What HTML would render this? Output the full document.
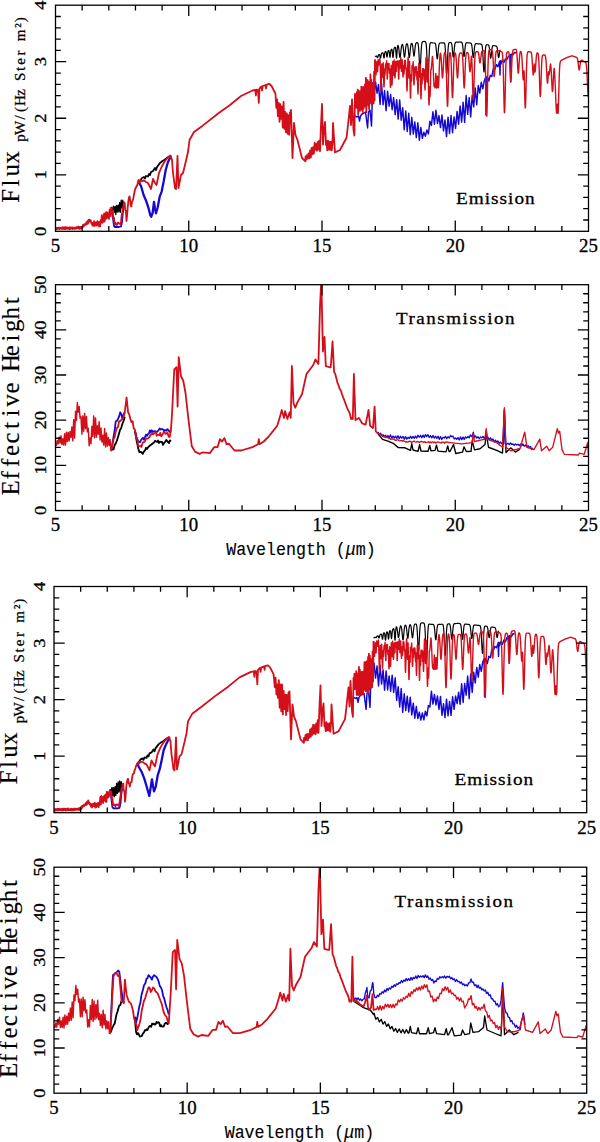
<!DOCTYPE html>
<html><head><meta charset="utf-8"><style>
html,body{margin:0;padding:0;background:#fff;width:600px;height:1142px;overflow:hidden;}
svg{display:block;}
text{fill:#000;}
</style></head><body>
<svg width="600" height="1142" viewBox="0 0 600 1142">
<rect width="600" height="1142" fill="#fff"/>
<defs>
<clipPath id="c1"><rect x="55.5" y="5.2" width="533" height="226.1"/></clipPath>
<clipPath id="c2"><rect x="55.5" y="284.7" width="533" height="225.8"/></clipPath>
<clipPath id="c3"><rect x="54" y="586.5" width="532.7" height="226.2"/></clipPath>
<clipPath id="c4"><rect x="54" y="867.2" width="532.7" height="226"/></clipPath>
</defs>
<g clip-path="url(#c1)"><polyline points="111.4,208 112.5,210 113.5,206.24 114.27,212.45 115.04,206.34 115.81,214.54 116.58,205.39 117.35,212.02 118.12,205.04 118.88,211.96 119.65,202.58 120.42,212.23 121.19,200.25 121.96,207.91 122.73,200.16 123.5,208.46 124.4,202.5" fill="none" stroke="#000000" stroke-width="1.3" stroke-linejoin="round" /><polyline points="140,181 142,178 144,177 145,178.5 146,176 148,176.5 149,174 150,175 151,172 153,171 155,168 156,170 157,167 160,163 162.5,161 165,159.5 167.5,157.5 170,156" fill="none" stroke="#000000" stroke-width="1.8" stroke-linejoin="round" /><polyline points="375,56.6 375.15,56.52 375.3,56.44 375.45,56.37 375.6,56.29 375.75,56.21 375.9,56.14 376.05,56.06 376.2,56.01 376.35,55.97 376.5,55.99 376.65,56.09 376.8,56.29 376.95,56.59 377.1,56.97 377.25,57.34 377.4,57.59 377.55,57.63 377.7,57.43 377.85,57.01 378,56.48 378.15,55.95 378.3,55.49 378.45,55.14 378.6,54.89 378.75,54.72 378.9,54.6 379.05,54.52 379.2,54.48 379.35,54.5 379.5,54.62 379.65,54.89 379.8,55.36 379.95,56.02 380.1,56.8 380.25,57.53 380.4,58.01 380.55,58.08 380.7,57.71 380.85,56.97 381,56.05 381.15,55.15 381.3,54.4 381.45,53.85 381.6,53.48 381.75,53.25 381.9,53.1 382.05,52.99 382.2,52.91 382.35,52.83 382.5,52.78 382.65,52.75 382.8,52.78 382.95,52.93 383.1,53.27 383.25,53.87 383.4,54.74 383.55,55.82 383.7,56.9 383.85,57.71 384,58.02 384.15,57.71 384.3,56.84 384.45,55.64 384.6,54.4 384.75,53.31 384.9,52.5 385.05,51.97 385.2,51.66 385.35,51.48 385.5,51.38 385.65,51.38 385.8,51.45 385.95,51.65 386.1,52.05 386.25,52.71 386.4,53.66 386.55,54.81 386.7,55.95 386.85,56.8 387,57.12 387.15,56.8 387.3,55.91 387.45,54.7 387.6,53.45 387.75,52.38 387.9,51.58 388.05,51.07 388.2,50.76 388.35,50.58 388.5,50.48 388.65,50.5 388.8,50.59 388.95,50.83 389.1,51.31 389.25,52.1 389.4,53.22 389.55,54.58 389.7,55.93 389.85,56.94 390,57.32 390.15,56.93 390.3,55.88 390.45,54.45 390.6,52.95 390.75,51.66 390.9,50.69 391.05,50.05 391.2,49.66 391.35,49.43 391.5,49.29 391.65,49.29 391.8,49.38 391.95,49.65 392.1,50.21 392.25,51.16 392.4,52.52 392.55,54.17 392.7,55.82 392.85,57.06 393,57.53 393.15,57.05 393.3,55.76 393.45,54 393.6,52.18 393.75,50.61 393.9,49.44 394.05,48.67 394.2,48.17 394.35,47.87 394.5,47.67 394.65,47.53 394.8,47.41 394.95,47.32 395.1,47.28 395.25,47.34 395.4,47.6 395.55,48.2 395.7,49.28 395.85,50.93 396,53.05 396.15,55.33 396.3,57.25 396.45,58.26 396.6,58.05 396.75,56.63 396.9,54.39 397.05,51.88 397.2,49.59 397.35,47.81 397.5,46.59 397.65,45.83 397.8,45.39 397.95,45.44 398.1,45.64 398.25,45.98 398.4,46.48 398.55,47.16 398.7,48.05 398.85,49.15 399,50.44 399.15,51.86 399.3,53.33 399.45,54.75 399.6,55.98 399.75,56.92 399.9,57.46 400.05,57.54 400.2,57.15 400.35,56.32 400.5,55.15 400.65,53.75 400.8,52.23 400.95,50.72 401.1,49.32 401.25,48.08 401.4,47.04 401.55,46.21 401.7,45.58 401.85,45.12 402,44.79 402.15,44.56 402.3,44.48 402.45,44.62 402.6,44.85 402.75,45.21 402.9,45.73 403.05,46.44 403.2,47.36 403.35,48.49 403.5,49.82 403.65,51.29 403.8,52.81 403.95,54.27 404.1,55.55 404.25,56.52 404.4,57.07 404.55,57.15 404.7,56.75 404.85,55.9 405,54.69 405.15,53.25 405.3,51.69 405.45,50.14 405.6,48.7 405.75,47.43 405.9,46.38 406.05,45.54 406.2,44.91 406.35,44.45 406.5,44.12 406.65,43.9 406.8,43.76 406.95,43.72 407.1,43.82 407.25,43.98 407.4,44.25 407.55,44.65 407.7,45.21 407.85,45.98 408,46.98 408.15,48.2 408.3,49.63 408.45,51.2 408.6,52.82 408.75,54.38 408.9,55.74 409.05,56.77 409.2,57.35 409.35,57.44 409.5,57.01 409.65,56.12 409.8,54.85 409.95,53.32 410.1,51.68 410.25,50.04 410.4,48.52 410.55,47.19 410.7,46.08 410.85,45.2 411,44.53 411.15,44.04 411.3,43.7 411.45,43.47 411.6,43.32 411.75,43.32 411.9,43.45 412.05,43.67 412.2,43.99 412.35,44.46 412.5,45.11 412.65,45.97 412.8,47.04 412.95,48.31 413.1,49.74 413.25,51.25 413.4,52.74 413.55,54.08 413.7,55.15 413.85,55.85 414,56.09 414.15,55.85 414.3,55.15 414.45,54.07 414.6,52.71 414.75,51.19 414.9,49.65 415.05,48.18 415.2,46.87 415.35,45.76 415.5,44.86 415.65,44.17 415.8,43.66 415.95,43.3 416.1,43.05 416.25,42.89 416.4,42.78 416.55,42.71 416.7,42.66 416.85,42.63 417,42.62 417.15,42.61 417.3,42.62 417.45,42.66 417.6,42.74 417.75,42.91 417.9,43.19 418.05,43.64 418.2,44.34 418.35,45.34 418.5,46.72 418.65,48.54 418.8,50.81 418.95,53.51 419.1,56.54 419.25,59.74 419.4,62.9 419.55,65.75 419.7,68.02 419.85,69.49 420,70 420.15,69.49 420.3,68.01 420.45,65.72 420.6,62.85 420.75,59.65 420.9,56.39 421.05,53.29 421.2,50.53 421.35,48.18 421.5,46.29 421.65,44.84 421.8,43.76 421.95,43.01 422.1,42.49 422.25,42.15 422.4,41.93 422.55,41.79 422.7,41.7 422.85,41.63 423,41.59 423.15,41.55 423.3,41.52 423.45,41.5 423.6,41.47 423.75,41.44 423.9,41.42 424.05,41.41 424.2,41.44 424.35,41.46 424.5,41.49 424.65,41.52 424.8,41.55 424.95,41.59 425.1,41.63 425.25,41.7 425.4,41.8 425.55,41.96 425.7,42.21 425.85,42.6 426,43.2 426.15,44.1 426.3,45.39 426.45,47.17 426.6,49.52 426.75,52.49 426.9,56.05 427.05,60.12 427.2,64.49 427.35,68.88 427.5,72.97 427.65,76.38 427.8,78.78 427.95,79.92 428.1,79.69 428.25,78.11 428.4,75.36 428.55,71.71 428.7,67.52 428.85,63.15 429,58.91 429.15,55.07 429.3,51.78 429.45,49.09 429.6,47.02 429.75,45.48 429.9,44.4 430.05,43.68 430.2,43.21 430.35,42.94 430.5,42.78 430.65,42.7 430.8,42.67 430.95,42.67 431.1,42.68 431.25,42.7 431.4,42.72 431.55,42.74 431.7,42.77 431.85,42.8 432,42.82 432.15,42.85 432.3,42.88 432.45,42.9 432.6,42.93 432.75,42.96 432.9,42.98 433.05,43 433.2,43 433.35,43 433.5,43 433.65,43 433.8,43 433.95,43 434.1,43 434.25,43.01 434.4,43.02 434.55,43.03 434.7,43.06 434.85,43.12 435,43.21 435.15,43.36 435.3,43.6 435.45,43.97 435.6,44.5 435.75,45.23 435.9,46.2 436.05,47.44 436.2,48.92 436.35,50.62 436.5,52.44 436.65,54.28 436.8,56 436.95,57.43 437.1,58.44 437.25,58.92 437.4,58.82 437.55,58.15 437.7,56.99 437.85,55.45 438,53.68 438.15,51.83 438.3,50.03 438.45,48.4 438.6,47 438.75,45.85 438.9,44.96 439.05,44.3 439.2,43.83 439.35,43.51 439.5,43.3 439.65,43.17 439.8,43.1 439.95,43.05 440.1,43.02 440.25,43 440.4,42.99 440.55,42.98 440.7,42.97 440.85,42.96 441,42.95 441.15,42.94 441.3,42.94 441.45,42.93 441.6,42.92 441.75,42.91 441.9,42.91 442.05,42.9 442.2,42.89 442.35,42.88 442.5,42.88 442.65,42.87 442.8,42.86 442.95,42.85 443.1,42.85 443.25,42.84 443.4,42.83 443.55,42.83 443.7,42.83 443.85,42.85 444,42.88 444.15,42.94 444.3,43.06 444.45,43.27 444.6,43.61 444.75,44.15 444.9,44.95 445.05,46.11 445.2,47.69 445.35,49.76 445.5,52.34 445.65,55.4 445.8,58.83 445.95,62.45 446.1,66.01 446.25,69.21 446.4,71.77 446.55,73.43 446.7,74 446.85,73.43 447,71.77 447.15,69.21 447.3,65.99 447.45,62.42 447.6,58.78 447.75,55.34 447.9,52.26 448.05,49.66 448.2,47.56 448.35,45.96 448.5,44.79 448.65,43.96 448.8,43.41 448.95,43.05 449.1,42.83 449.25,42.69 449.4,42.61 449.55,42.56 449.7,42.53 449.85,42.52 450,42.5 450.15,42.5 450.3,42.49 450.45,42.5 450.6,42.51 450.75,42.53 450.9,42.59 451.05,42.68 451.2,42.84 451.35,43.09 451.5,43.46 451.65,44.01 451.8,44.75 451.95,45.72 452.1,46.94 452.25,48.38 452.4,50 452.55,51.71 452.7,53.4 452.85,54.92 453,56.13 453.15,56.91 453.3,57.18 453.45,56.91 453.6,56.12 453.75,54.91 453.9,53.38 454.05,51.69 454.2,49.96 454.35,48.32 454.5,46.86 454.65,45.62 454.8,44.62 454.95,43.86 455.1,43.3 455.25,42.9 455.4,42.63 455.55,42.46 455.7,42.35 455.85,42.28 456,42.24 456.15,42.21 456.3,42.19 456.45,42.18 456.6,42.17 456.75,42.16 456.9,42.16 457.05,42.15 457.2,42.14 457.35,42.13 457.5,42.13 457.65,42.12 457.8,42.11 457.95,42.1 458.1,42.1 458.25,42.09 458.4,42.08 458.55,42.07 458.7,42.07 458.85,42.06 459,42.05 459.15,42.04 459.3,42.04 459.45,42.03 459.6,42.02 459.75,42.01 459.9,42.01 460.05,42.01 460.2,42.02 460.35,42.04 460.5,42.05 460.65,42.07 460.8,42.08 460.95,42.1 461.1,42.12 461.25,42.15 461.4,42.2 461.55,42.26 461.7,42.36 461.85,42.51 462,42.74 462.15,43.08 462.3,43.57 462.45,44.24 462.6,45.12 462.75,46.23 462.9,47.57 463.05,49.09 463.2,50.72 463.35,52.36 463.5,53.89 463.65,55.16 463.8,56.06 463.95,56.48 464.1,56.4 464.25,55.81 464.4,54.78 464.55,53.43 464.7,51.87 464.85,50.25 465,48.68 465.15,47.25 465.3,46.03 465.45,45.04 465.6,44.27 465.75,43.71 465.9,43.31 466.05,43.05 466.2,42.88 466.35,42.79 466.5,42.73 466.65,42.71 466.8,42.7 466.95,42.71 467.1,42.72 467.25,42.73 467.4,42.74 467.55,42.76 467.7,42.77 467.85,42.79 468,42.8 468.15,42.82 468.3,42.83 468.45,42.85 468.6,42.86 468.75,42.88 468.9,42.89 469.05,42.91 469.2,42.92 469.35,42.94 469.5,42.95 469.65,42.97 469.8,42.98 469.95,43 470.1,43.01 470.25,43.03 470.4,43.05 470.55,43.08 470.7,43.13 470.85,43.19 471,43.29 471.15,43.44 471.3,43.67 471.45,44.02 471.6,44.51 471.75,45.18 471.9,46.07 472.05,47.18 472.2,48.52 472.35,50.05 472.5,51.69 472.65,53.34 472.8,54.87 472.95,56.15 473.1,57.05 473.25,57.48 473.4,57.39 473.55,56.8 473.7,55.77 473.85,54.41 474,52.84 474.15,51.21 474.3,49.64 474.45,48.21 474.6,46.98 474.75,45.98 474.9,45.21 475.05,44.65 475.2,44.25 475.35,43.98 475.5,43.82 475.65,43.72 475.8,43.66 475.95,43.64 476.1,43.63 476.25,43.64 476.4,43.65 476.55,43.66 476.7,43.67 476.85,43.69 477,43.7 477.15,43.72 477.3,43.73 477.45,43.75 477.6,43.76 477.75,43.78 477.9,43.79 478.05,43.81 478.2,43.82 478.35,43.84 478.5,43.85 478.65,43.87 478.8,43.88 478.95,43.9 479.1,43.91 479.25,43.93 479.4,43.94 479.55,43.96 479.7,43.97 479.85,43.99 480,44 480.15,44.02 480.3,44.03 480.45,44.05 480.6,44.06 480.75,44.08 480.9,44.1 481.05,44.13 481.2,44.17 481.35,44.22 481.5,44.32 481.65,44.47 481.8,44.71 481.95,45.08 482.1,45.66 482.25,46.49 482.4,47.65 482.55,49.21 482.7,51.22 482.85,53.67 483,56.51 483.15,59.64 483.3,62.85 483.45,65.93 483.6,68.61 483.75,70.62 483.9,71.77 484.05,71.94 484.2,71.11 484.35,69.37 484.5,66.9 484.65,63.95 484.8,60.77 484.95,57.63 485.1,54.71 485.25,52.17 485.4,50.06 485.55,48.39 485.7,47.14 485.85,46.25 486,45.64 486.15,45.24 486.3,44.99 486.45,44.85 486.6,44.77 486.75,44.73 486.9,44.72 487.05,44.72 487.2,44.73 487.35,44.74 487.5,44.75 487.65,44.77 487.8,44.79 487.95,44.82 488.1,44.86 488.25,44.92 488.4,45.02 488.55,45.16 488.7,45.38 488.85,45.7 489,46.16 489.15,46.79 489.3,47.62 489.45,48.66 489.6,49.92 489.75,51.34 489.9,52.88 490.05,54.42 490.2,55.85 490.35,57.05 490.5,57.89 490.65,58.28 490.8,58.2 490.95,57.66 491.1,56.7 491.25,55.44 491.4,53.99 491.55,52.48 491.7,51.03 491.85,49.71 492,48.59 492.15,47.68 492.3,46.98 492.45,46.47 492.6,46.11 492.75,45.88 492.9,45.74 493.05,45.66 493.2,45.62 493.35,45.61 493.5,45.62 493.65,45.63 493.8,45.65 493.95,45.67 494.1,45.7 494.25,45.72 494.4,45.75 494.55,45.77 494.7,45.8 494.85,45.82 495,45.85 495.15,45.88 495.3,45.9 495.45,45.93 495.6,45.96 495.75,45.99 495.9,46.02 496.05,46.07 496.2,46.12 496.35,46.2 496.5,46.32 496.65,46.5 496.8,46.75 496.95,47.11 497.1,47.61 497.25,48.27 497.4,49.1 497.55,50.12 497.7,51.3 497.85,52.58 498,53.9 498.15,55.15 498.3,56.24 498.45,57.06 498.6,57.53 498.75,57.6 498.9,57.26 499.05,56.56 499.2,55.57 499.35,54.39 499.5,53.13 499.65,51.88 499.8,50.73 499.95,49.73" fill="none" stroke="#000000" stroke-width="1.2" stroke-linejoin="round" /><polyline points="111.4,208 112.5,214 113.2,220 114,226 115,227 117,226.8 119,227 121,226.5 122,222 122.8,213 124.4,202.5" fill="none" stroke="#1408d2" stroke-width="1.8" stroke-linejoin="round" /><polyline points="138.5,181.9 141,186 143.7,195.3 146.3,201.3 148.3,207.3 150.3,215.3 151.3,216.7 152.6,213 154,202 155,208.7 156,213.3 157.7,207.3 159.7,196.7 161.7,191.3 163.7,181.3 165.7,170 168,162 170,158 170.9,155.75" fill="none" stroke="#1408d2" stroke-width="2.3" stroke-linejoin="round" /><polyline points="355,116 357,117 358.5,116 359.5,121 360.5,116 362,114 364,113 365.5,112 367.6,128 368.5,112 370,110 371.5,126 372.5,95 372.5,82.78 374.01,93.89 375.52,81.96 377.03,93.19 378.54,84.46 380.05,104.54 381.56,83.48 383.07,104.79 384.58,90.47 386.09,110.68 387.61,91.22 389.12,106.15 390.63,94.55 392.14,109.68 393.65,97.69 395.16,114.58 396.67,99.65 398.18,119.09 399.69,100 401.2,120.21 402.71,107.76 404.22,129.68 405.73,111.06 407.24,131.44 408.75,113.19 410.26,134.68 411.77,117.35 413.28,134.07 414.79,121.91 416.31,137.59 417.82,122.72 419.33,140.2 420.84,127.45 422.35,138.29 423.86,132.21 425.37,136.24 426.88,130.03 428.39,134 429.9,121.27 431.41,125.59 432.92,111.78 434.43,124.21 435.94,110.26 437.45,123.54 438.96,115.59 440.47,127.63 441.98,114.95 443.49,130.9 445.01,119.96 446.52,136.58 448.03,117.18 449.54,133.56 451.05,115.46 452.56,132.72 454.07,116.91 455.58,128.48 457.09,111.38 458.6,124.22 460.11,105.89 461.62,122.1 463.13,102.3 464.64,122.48 466.15,95.47 467.66,114.33 469.17,97.51 470.68,116.98 472.19,95.31 473.71,106.88 475.22,87.92 476.73,104.72 478.24,85.45 479.75,93.06 481.26,82.29 482.77,88.82 484.28,80.81 485.6,77.52 485.79,85.47 486,115 486.4,76.88 487.3,76.76 488.81,80.95 490.32,75.29 491.83,76.53 493.34,68.39 494.85,69.36 496.36,64.5 497.87,66.84 499.38,61.97 499.6,61.32 500,75 500.4,60.76 500.89,64.37 502.41,59.64 503.92,62.49 505.43,58.88 506.94,59.5 508.45,56.24 509.96,57.26 510.3,54.8 510.7,82 511.1,54.27 511.47,54.28 512.98,54.81 514.49,52.51 516,52.75" fill="none" stroke="#1408d2" stroke-width="1.45" stroke-linejoin="round" /><polyline points="55.5,227.39 56.05,229.29 56.6,227.84 57.15,229.26 57.71,227.78 58.26,228.57 58.81,227.59 59.36,229.15 59.91,227.8 60.46,228.55 61.01,227.67 61.57,228.89 62.12,227.41 62.67,229 63.22,227.27 63.77,228.75 64.32,227.43 64.87,229.11 65.43,227.18 65.98,228.74 66.53,227.31 67.08,228.86 67.63,227.32 68.18,228.57 68.73,227.75 69.29,229.22 69.84,227.21 70.39,228.97 70.94,227.79 71.49,228.62 72.04,227.29 72.59,229.05 73.14,227.54 73.7,228.56 74.25,227.72 74.8,228.94 75.35,227.64 75.9,228.6 76.45,227.19 77,228.27 77.56,226.83 78.11,228.4 78.66,226.55 79.21,228.81 79.76,227.15 80.31,228.7 80.86,226.88 81.42,228.26 81.97,226.83 82.52,227.53 83.07,224.75 83.62,226.38 84.17,224.47 84.72,225.43 85.28,223.82 85.83,224.48 86.38,222.23 86.93,224.04 87.48,221.13 88.03,223.64 88.58,220 89.14,221.72 89.69,219.77 90.24,221.4 90.79,220.29 91.34,223.58 91.89,222.75 92.44,225.55 93,222.76 93.55,225.88 94.1,221.16 94.65,225.93 95.2,222.37 95.75,225.31 96.3,222.44 96.86,225.54 97.41,221.08 97.96,224.85 98.51,222.24 99.06,226.47 99.61,221.91 100.16,226.31 100.71,219.78 101.27,222.45 101.82,215.04 102.37,222.82 102.92,217.28 103.47,221.54 104.02,213.71 104.57,221.65 105.13,213.34 105.68,219.18 106.23,212.11 106.78,218.14 107.33,212.32 107.88,217.43 108.43,213.56 108.99,219 109.54,209.8 110.09,216.08 110.64,207.8 111.19,213.32 111.74,207.36 112.29,216.56 112.85,212.42 113.4,218.87 113.95,217.47 114.5,223.37 114.5,222.63 115.1,222.44 115.7,224.45 116.3,224.88 116.9,225.06 117.5,222.88 118.1,222.63 118.7,222.97 119.3,223.74 119.9,223.43 120.5,224.28 121.1,221.14 121.7,215.08 122.3,212.68 122.9,208.68 123.5,205.6 124.1,202.06 124.7,203.32 125.3,209.97 125.9,211.18 126.5,221 127.1,215.22 127.7,207.64 128.3,201.58 128.9,197.57 129.5,196.38 130.1,199.76 130.7,205.52 131.3,206.58 131.9,202.27 132.5,200.7 133.1,199.59 133.7,196.12 134.3,192.97 134.9,190.18 135.5,187.95 136.1,187.69 136.7,185.34 137.3,185.67 137.9,181.78 138.5,180.03 139.1,182.14 139.7,180.26 140.3,181.99 140.9,180.07 141.5,181.1 144,180.5 146,182 148,183 151,189 153,179 155,183 156.5,185 159,173 162,166 165,161 168,157.5 170.5,155.5 172,160 173,173 175,188 176,189 177.5,156 178.5,188 181,175 183,173 185,165 188,152 189.5,140 194,132 203,125.4 218.8,113 230,105 241,96 252.5,90.5 255.3,90 255.9,95.5 256.5,89.6 258,90 258.8,102.9 259.5,88.5 261.5,86.5 262.1,90.5 262.7,86.2 265.6,85 266.1,88.5 266.6,84.8 268,84.2 269.5,84 271.6,86 275,92.75 275.5,94.06 276.31,107.8 277.11,99.28 277.92,116.18 278.72,102.99 279.53,121.75 280.33,104.19 281.14,118.74 281.94,106.42 282.75,127.55 283.56,101.8 284.36,128.82 285.17,111.89 285.97,132.29 286.78,113.33 287.58,133.79 288.39,115.16 289.19,134.75 290,112.37 290.5,120 291,110 292.5,158 294,123 295.5,135 297.5,140 300,150 302,158 305.4,161.4 305.5,156.48 306.26,159.62 307.03,155.21 307.79,158.7 308.55,153.49 309.32,158.29 310.08,150.41 310.84,157.5 311.61,147.92 312.37,154.44 313.13,147.12 313.89,153.73 314.66,142.76 315.42,149.72 316.18,143.95 316.95,150.93 317.71,141.97 318.47,149.48 319.24,140.57 320,151.22 321,125 322,104 323,144.5 324,130 325,122 326,145 326.5,140.88 327.25,150.45 328,140.62 328.75,149.68 329.5,141.83 330.25,149.88 331,141.55 331.75,150.34 332.5,142.11 333,123 335,152.4 340,150 346.5,137.75 348,125 350,106 351,125 352,99.5 353.5,130 354.4,135.5 355,93.8 355.45,106.64 355.91,95.83 356.36,107.8 356.82,92.26 357.27,108.07 357.73,89.65 358.18,114.64 358.64,90.96 359.09,110.49 359.55,91.4 360,110.74 360.45,91.14 360.91,107.85 361.36,86.55 361.82,109.65 362.27,88.08 362.73,111.82 363.18,86.85 363.64,108.45 364.09,90.85 364.55,104.78 365,84.31 365.45,106.67 365.91,77.73 366.36,112.22 366.82,79.9 367.27,103.23 367.73,80.23 368.18,105 368.64,86.68 369.09,109.04 369.55,81.62 370,101.97 370.45,74.48 370.91,103.03 371.36,79.73 371.82,104.92 372.27,83.88 372.73,102.18 373.18,87.59 373.64,103.44 374.09,71.71 374.55,100.25 375,62.61 375,59.59" fill="none" stroke="#d40f1a" stroke-width="1.8" stroke-linejoin="round" /><polyline points="375,59.59 375.2,61.7 375.4,65.19 375.6,69.59 375.8,73.45 376,75 376.2,73.44 376.4,69.53 376.6,65.02 376.8,61.39 377,63.25 377.2,67.88 377.4,71.47 377.6,71.47 377.8,67.84 378,63.1 378.2,59.62 378.4,60.5 378.6,62.51 378.8,64.28 379,65 379.2,64.27 379.4,62.45 379.6,60.33 379.8,58.6 380,59.96 380.2,64.24 380.4,71.3 380.6,80.16 380.8,87.89 381,91 381.2,87.88 381.4,80.09 381.6,71.13 381.8,63.93 382,64.88 382.2,71.83 382.4,77.21 382.6,77.2 382.8,71.79 383,64.73 383.2,62.78 383.4,69.17 383.6,77.18 383.8,84.18 384,87 384.2,84.17 384.4,77.12 384.6,68.99 384.8,72.33 385,75 385.2,72.32 385.4,66.27 385.6,64.04 385.8,66.86 386,68 386.2,66.86 386.4,64.02 386.6,60.74 386.8,65.11 387,73.01 387.2,79.1 387.4,79.1 387.6,72.99 387.8,65.05 388,63.39 388.2,67.16 388.4,69.65 388.6,69.65 388.8,67.15 389,63.35 389.2,68.64 389.4,73.31 389.6,73.31 389.8,68.63 390,73.26 390.2,81.66 390.4,87.23 390.6,87.23 390.8,81.65 391,73.22 391.2,65.27 391.4,67.72 391.6,75.49 391.8,82.27 392,85 392.2,82.27 392.4,75.47 392.6,67.65 392.8,61.38 393,63.15 393.2,69.96 393.4,75.23 393.6,75.22 393.8,69.95 394,63.09 394.2,59.73 394.4,64.56 394.6,70.6 394.8,75.88 395,78 395.2,75.88 395.4,70.6 395.6,64.53 395.8,61.46 396,67.05 396.2,71.37 396.4,71.37 396.6,67.06 396.8,61.48 397,60.89 397.2,63.81 397.4,65.73 397.6,65.73 397.8,63.81 398,60.91 398.2,64.68 398.4,72.81 398.6,79.08 398.8,79.08 399,72.82 399.2,64.7 399.4,60.34 399.6,63.79 399.8,66.79 400,68 400.2,66.8 400.4,63.8 400.6,60.37 400.8,57.62 401,61.56 401.2,67.1 401.4,71.37 401.6,71.37 401.8,67.11 402,61.58 402.2,59.63 402.4,64.24 402.6,69.99 402.8,74.99 403,77 403.2,74.99 403.4,70 403.6,65.42 403.8,71.36 404,74 404.2,71.36 404.4,65.43 404.6,60.42 404.8,62.26 405,63 405.2,62.26 405.4,60.43 405.6,63.24 405.8,67.92 406,70 406.2,67.92 406.4,70.29 406.6,79.62 406.8,87.74 407,91 407.2,87.74 407.4,79.62 407.6,70.31 407.8,62.86 408,58.32 408.2,57.1 408.4,61.04 408.6,67.71 408.8,74.83 409,78 409.2,74.83 409.4,67.72 409.6,61.46 409.8,68.79 410,79.35 410.2,90.56 410.4,97.97 410.6,97.97 410.8,90.56 411,79.35 411.2,74.36 411.4,81.02 411.6,81.02 411.8,74.36 412,65.71 412.2,67.12 412.4,69.65 412.6,69.65 412.8,67.12 413,63.3 413.2,61.6 413.4,67.8 413.6,75.54 413.8,82.29 414,85 414.2,82.29 414.4,75.54 414.6,67.8 414.8,73.11 415,76 415.2,73.11 415.4,66.62 415.6,66.64 415.8,70.46 416,72 416.2,70.46 416.4,66.64 416.6,68.83 416.8,76.56 417,80 417.2,76.56 417.4,71.63 417.6,81.71 417.8,90.48 418,94 418.2,90.48 418.4,81.71 418.6,71.63 418.8,63.57 419,64.12 419.2,71.49 419.4,77.16 419.6,77.16 419.8,71.49 420,64.12 420.2,64.67 420.4,73.77 420.6,85.13 420.8,95.03 421,99 421.2,95.03 421.4,85.13 421.6,73.77 421.8,80.01 422,84 422.2,80.01 422.4,71.05 422.6,68.7 422.8,73.19 423,75 423.2,73.19 423.4,68.7 423.6,68.83 423.8,76.56 424,80 424.2,76.56 424.4,69.93 424.6,78.97 424.8,86.84 425,90 425.2,86.83 425.4,78.93 425.6,69.84 425.8,62.54 426,58.06 426.2,57.26 426.4,61.87 426.6,69.76 426.8,78.23 427,82 427.2,78.21 427.4,69.67 427.6,61.65 427.8,59.05 428,64.06 428.2,71.94 428.4,82.29 428.6,93.23 428.8,101.76 429,105 429.2,101.75 429.4,93.18 429.6,86.79 429.8,93.97 430,96.7 430.2,93.96 430.4,86.74 430.6,77.45 430.8,69.47 431,70 431.2,69.47 431.4,67.96 431.6,65.75 431.8,63.19 432,60.63 432.2,58.37 432.4,56.53 432.6,57.23 432.8,59.81 433,63.36 433.2,67.83 433.4,72.91 433.6,78.06 433.8,82.54 434,85.61 434.2,86.7 434.4,85.6 434.6,83.65 434.8,86.86 435,88 435.2,86.86 435.4,83.64 435.6,78.93 435.8,73.5 436,76.45 436.2,81.66 436.4,85.75 436.6,88.01 436.8,88.01 437,85.75 437.2,81.65 437.4,76.43 437.6,76.22 437.8,81.4 438,85.47 438.2,87.71 438.4,87.71 438.6,85.46 438.8,81.39 439,76.2 439.2,70.68 439.4,65.54 439.6,61.22 439.8,57.92 440,55.6 440.2,54.1 440.4,53.2 440.6,53.56 440.8,54.63 441,56.29 441.2,58.66 441.4,61.76 441.6,65.48 441.8,69.46 442,73.21 442.2,76.16 442.4,77.79 442.6,77.79 442.8,76.16 443,73.2 443.2,69.44 443.4,65.43 443.6,61.7 443.8,58.56 444,56.16 444.2,54.47 444.4,53.38 444.6,52.72 444.8,52.35 445,52.33 445.2,52.73 445.4,53.5 445.6,54.88 445.8,57.18 446,60.72 446.2,65.77 446.4,72.36 446.6,80.23 446.8,88.66 447,96.6 447.2,102.82 447.4,106.26 447.6,106.26 447.8,102.83 448,96.61 448.2,88.69 448.4,80.29 448.6,72.46 448.8,65.9 449,60.89 449.2,57.38 449.4,55.12 449.6,53.78 449.8,53.03 450,52.66 450.2,52.95 450.4,53.59 450.6,54.75 450.8,56.66 451,59.62 451.2,63.84 451.4,69.34 451.6,75.91 451.8,82.94 452,89.57 452.2,94.77 452.4,97.63 452.6,97.63 452.8,94.77 453,89.58 453.2,82.98 453.4,75.97 453.6,69.44 453.8,63.97 454,59.79 454.2,56.87 454.4,54.99 454.6,53.86 454.8,53.25 455,52.94 455.2,53.01 455.4,53.38 455.6,54.02 455.8,55.09 456,56.74 456.2,59.07 456.4,62.13 456.6,65.77 456.8,69.67 457,73.33 457.2,76.21 457.4,77.79 457.6,77.79 457.8,76.21 458,73.35 458.2,69.7 458.4,65.83 458.6,62.22 458.8,59.2 459,56.9 459.2,55.3 459.4,54.26 459.6,53.65 459.8,53.32 460,53.15 460.2,53.05 460.4,53 460.6,52.97 460.8,52.95 461,52.94 461.2,52.94 461.4,52.96 461.6,53.03 461.8,53.19 462,53.53 462.2,54.18 462.4,55.32 462.6,57.15 462.8,59.88 463,63.62 463.2,68.31 463.4,73.63 463.6,79 463.8,83.67 464,86.86 464.2,88 464.4,86.86 464.6,83.66 464.8,78.98 465,73.59 465.2,68.24 465.4,63.51 465.6,59.73 465.8,56.96 466,55.09 466.2,53.92 466.4,53.25 466.6,52.88 466.8,52.69 467,52.59 467.2,52.55 467.4,52.58 467.6,52.67 467.8,52.84 468,53.19 468.2,53.81 468.4,54.81 468.6,56.3 468.8,58.34 469,60.91 469.2,63.82 469.4,66.77 469.6,69.32 469.8,71.08 470,71.7 470.2,71.08 470.4,69.32 470.6,66.74 470.8,63.78 471,60.83 471.2,58.23 471.4,56.15 471.6,56.71 471.8,59.78 472,64.18 472.2,69.94 472.4,76.81 472.6,84.19 472.8,91.14 473,96.6 473.2,99.61 473.4,99.61 473.6,96.6 473.8,91.13 474,84.16 474.2,76.75 474.4,69.84 474.6,64.05 474.8,59.61 475,56.5 475.2,54.46 475.4,53.23 475.6,52.53 475.8,52.15 476,51.96 476.2,51.85 476.4,51.79 476.6,51.74 476.8,51.7 477,51.67 477.2,51.65 477.4,51.64 477.6,51.67 477.8,51.75 478,51.93 478.2,52.28 478.4,52.85 478.6,53.73 478.8,54.94 479,56.48 479.2,58.23 479.4,60 479.6,61.55 479.8,62.62 480,63 480.2,62.62 480.4,61.54 480.6,59.95 480.8,58.12 481,56.29 481.2,54.67 481.4,53.36 481.6,52.39 481.8,51.72 482,51.29 482.2,51.03 482.4,50.88 482.6,50.78 482.8,50.72 483,50.67 483.2,50.64 483.4,50.61 483.6,50.59 483.8,50.6 484,50.67 484.2,50.86 484.4,51.3 484.6,52.19 484.8,53.82 485,56.56 485.2,60.82 485.4,66.91 485.6,74.91 485.8,84.45 486,94.71 486.2,104.38 486.4,111.97 486.6,116.16 486.8,116.16 487,111.96 487.2,104.34 487.4,94.63 487.6,84.31 487.8,74.68 488,66.59 488.2,60.4 488.4,56.04 488.6,53.22 488.8,51.51 489,50.55 489.2,50.03 489.4,49.77 489.6,49.64 489.8,49.56 490,49.51 490.2,49.53 490.4,49.56 490.6,49.59 490.8,49.62 491,49.66 491.2,49.7 491.4,49.75 491.6,49.85 491.8,50.01 492,50.31 492.2,50.85 492.4,51.75 492.6,53.18 492.8,55.3 493,58.18 493.2,61.76 493.4,65.81 493.6,69.89 493.8,73.43 494,75.84 494.2,76.7 494.4,75.84 494.6,73.44 494.8,69.94 495,65.91 495.2,61.93 495.4,58.42 495.6,55.63 495.8,53.61 496,52.25 496.2,51.42 496.4,50.96 496.6,50.72 496.8,50.62 497,50.59 497.2,50.6 497.4,50.62 497.6,50.64 497.8,50.67 498,50.7 498.2,50.73 498.4,50.76 498.6,50.79 498.8,50.82 499,50.85 499.2,50.88 499.4,50.91 499.6,50.94 499.8,50.97 500,51 500.2,51.08 500.4,51.16 500.6,51.24 500.8,51.32 501,51.4 501.2,51.49 501.4,51.58 501.6,51.7 501.8,51.88 502,52.17 502.2,52.69 502.4,53.62 502.6,55.23 502.8,57.86 503,61.88 503.2,67.57 503.4,74.98 503.6,83.79 503.8,93.21 504,102.06 504.2,108.99 504.4,112.81 504.6,112.81 504.8,109.01 505,102.14 505.2,93.34 505.4,83.98 505.6,75.22 505.8,67.85 506,62.19 506.2,58.19 506.4,55.57 506.6,53.96 506.8,53.03 507,52.51 507.2,52.21 507.4,52.03 507.6,51.91 507.8,51.82 508,51.76 508.2,51.75 508.4,51.81 508.6,52.03 508.8,52.52 509,53.43 509.2,54.95 509.4,57.26 509.6,60.46 509.8,64.5 510,69.12 510.2,73.8 510.4,77.89 510.6,80.7 510.8,81.7 511,80.69 511.2,77.85 511.4,73.67 511.6,68.84 511.8,64.02 512,59.75 512.2,56.33 512.4,53.82 512.6,52.12 512.8,51.04 513,50.41 513.2,50.05 513.4,49.85 513.6,49.73 513.8,49.66 514,49.61 514.2,49.56 514.4,49.52 514.6,49.48 514.8,49.44 515,49.4 515.2,49.37 515.4,49.34 515.6,49.34 515.8,49.38 516,49.52 516.2,49.81 516.4,50.38 516.6,51.35 516.8,52.88 517,55.09 517.2,58.1 517.4,61.63 517.6,65.39 517.8,68.89 518,71.62 518.2,73.11 518.4,73.11 518.6,71.64 518.8,69 519,65.66 519.2,62.16 519.4,58.93 519.6,56.26 519.8,54.26 520,52.91 520.2,52.08 520.4,51.64 520.6,51.45 520.8,51.45 521,51.78 521.2,52.29 521.4,53.11 521.6,54.41 521.8,56.33 522,59.02 522.2,62.39 522.4,66.41 522.6,70.74 522.8,74.81 523,78.01 523.2,79.77 523.4,79.77 523.6,78.01 523.8,74.8 524,70.72 524.2,72.84 524.4,80.95 524.6,89.65 524.8,97.85 525,104.29 525.2,107.84 525.4,107.84 525.6,104.29 525.8,97.85 526,89.63 526.2,80.91 526.4,72.78 526.6,65.96 526.8,60.74 527,57.09 527.2,54.72 527.4,53.3 527.6,52.5 527.8,52.09 528,51.89 528.2,51.79 528.4,51.75 528.6,51.72 528.8,51.71 529,51.7 529.2,51.72 529.4,51.74 529.6,51.76 529.8,51.78 530,51.8 530.2,51.83 530.4,51.86 530.6,51.92 530.8,52.02 531,52.2 531.2,52.54 531.4,53.14 531.6,54.12 531.8,55.63 532,57.76 532.2,60.55 532.4,63.87 532.6,67.42 532.8,70.76 533,73.37 533.2,74.81 533.4,74.81 533.6,73.38 533.8,70.77 534,67.46 534.2,63.95 534.4,66.95 534.6,69.58 534.8,71.36 535,72 535.2,71.37 535.4,69.59 535.6,66.99 535.8,64 536,61.04 536.2,58.44 536.4,56.37 536.6,54.86 536.8,53.85 537,53.24 537.2,52.95 537.4,52.84 537.6,52.86 537.8,53.1 538,53.49 538.2,54.18 538.4,55.35 538.6,57.25 538.8,60.13 539,64.2 539.2,69.48 539.4,75.75 539.6,82.45 539.8,88.73 540,93.65 540.2,96.35 540.4,96.35 540.6,93.67 540.8,88.81 541,82.64 541.2,76.12 541.4,70.06 541.6,65.01 541.8,61.18 542,58.53 542.2,56.85 542.4,55.88 542.6,55.38 542.8,55.17 543,55.11 543.2,55.04 543.4,55.02 543.6,55.01 543.8,55 544,55 544.2,55 544.4,55.01 544.6,55.03 544.8,55.07 545,55.17 545.2,55.62 545.4,56.25 545.6,57.18 545.8,58.56 546,60.53 546.2,63.21 546.4,66.61 546.6,70.55 546.8,74.69 547,78.52 547.2,81.48 547.4,83.09 547.6,83.1 547.8,81.54 548,78.75 548.2,75.27 548.4,71.64 548.6,73.1 548.8,74.51 549,75 549.2,74.53 549.4,73.23 549.6,71.4 549.8,69.37 550,67.45 550.2,65.86 550.4,64.69 550.6,63.95 550.8,65.42 551,67.55 551.2,70.27 551.4,73.78 551.6,77.93 551.8,82.35 552,86.48 552.2,89.7 552.4,91.47 552.6,91.47 552.8,89.72 553,86.57 553.2,82.58 553.4,78.37 553.6,74.47 553.8,71.24 554,68.81 554.2,68.33 554.4,70.23 554.6,72.72 554.8,75.88 555,79.73 555.2,84.07 555.4,88.98 555.6,94.21 555.8,99.46 556,104.36 556.2,108.5 556.4,111.51 556.6,113.1 556.8,113.1 557,111.49 557.2,108.43 557.4,104.18 557.6,107.14 557.8,111.68 558,113.3 558.2,111.67 558.4,107.07 558.6,100.31 558.8,92.49 559,84.7 559.2,77.77 559.4,72.19 559.6,68.05 559.8,65.21 560,63.39 560.2,62.27 560.4,61.61 560.6,61.21 560.8,60.94 561,60.75 561.2,60.58 561.4,60.43 561.6,60.29 561.8,60.14 562,60 562.2,59.9 562.4,59.8 562.6,59.7 562.8,59.6 563,59.5 563.2,59.4 563.4,59.3 563.6,59.2 563.8,59.1 564,59 564.2,58.9 564.4,58.8 564.6,58.7 564.8,58.6 565,58.5 565.2,58.4 565.4,58.3 565.6,58.2 565.8,58.1 566,58 566.2,57.9 566.4,57.8 566.6,57.7 566.8,57.6 567,57.5 567.2,57.43 567.4,57.36 567.6,57.3 567.8,57.23 568,57.16 568.2,57.09 568.4,57.02 568.6,56.96 568.8,56.89 569,56.82 569.2,56.75 569.4,56.68 569.6,56.62 569.8,56.55 570,56.48 570.2,56.41 570.4,56.34 570.6,56.28 570.8,56.21 571,56.14 571.2,56.07 571.4,56 571.6,55.94 571.8,55.87 572,55.8 572.2,55.87 572.4,55.94 572.6,56 572.8,56.07 573,56.14 573.2,56.21 573.4,56.28 573.6,56.34 573.8,56.41 574,56.48 574.2,56.55 574.4,56.62 574.6,56.68 574.8,56.75 575,56.82 575.2,56.89 575.4,56.96 575.6,57.02 575.8,57.09 576,57.16 576.2,57.24 576.4,57.32 576.6,57.41 576.8,57.54 577,57.74 577.2,58.08 577.4,58.58 577.6,59.33 577.8,60.36 578,61.72 578.2,63.38 578.4,65.21 578.6,67.03 578.8,68.59 579,69.63 579.2,70 579.4,69.64 579.6,68.64 579.8,67.2 580,65.57 580.2,64 580.4,62.64 580.6,61.59 580.8,60.87 581,60.43 581.2,60.19 581.4,60.11 581.6,60.12 581.8,60.18 582,60.27 582.2,60.37 582.4,60.47 582.6,60.58 582.8,60.69 583,60.8 583.2,60.91 583.4,61.03 583.6,61.14 583.8,61.25 584,61.37 584.2,61.48 584.4,61.59 584.6,61.71 584.8,61.82 585,61.94 585.2,62.06 585.4,62.2 585.6,62.36 585.8,62.59 586,62.95 586.2,64.01 586.4,65.42 586.6,67.34 586.8,69.94 587,73.32 587.2,77.46 587.4,82.15 587.6,86.98 587.8,91.37 588,94.7 588.2,96.47 588.4,96.48" fill="none" stroke="#d40f1a" stroke-width="1.4" stroke-linejoin="round" /></g>
<g clip-path="url(#c2)"><polyline points="111.25,450.5 112.38,449.09 113.5,449.4 114.75,445.02 116,443 117,440.38 118,437 119,433.63 120,430 121.25,427.85 122.5,423.5 123.62,420.82 124.75,416.75" fill="none" stroke="#000000" stroke-width="1.8" stroke-linejoin="round" /><polyline points="135,431 136.5,440 138.25,448.5 139.38,452.11 140.5,452 141.62,452.19 142.75,453.9 143.88,451.63 145,450.5 146,447.75 147,449 148.25,447.03 149.5,446 150.75,444.9 152,444 153,443.26 154,442.5 155.12,440.8 156.25,441.5 157.17,442.02 158.08,440.52 159,443 160,441.56 161,442 162,441.81 163,444.9 164,443.05 165,442 166.25,439.92 167.5,441.5 169,443 169.95,440.34 170.9,441.5" fill="none" stroke="#000000" stroke-width="1.8" stroke-linejoin="round" /><polyline points="378,433.88 382.5,439.31 388,441.13 393.75,443.72 398.25,447.62 405,447.78 410.5,450.38 411.75,443.67 413,449.99 418,451.4 419.6,444.77 421,451.01 428,451.23 429.75,445.48 431,450.81 435,450.4 436.5,445.15 438,451.16 446,451.89 447.75,445.82 449,451.47 450,451.56 453.5,444.48 455.8,453.49 462.5,452.21 464,446.9 466.3,451.5 471,451.41 472.2,440.74 474.5,449.8 480,448.74 485,444.59 486.2,433.05 488.5,447.25 496.7,450.39 502.5,453.13 504.4,409.72 506,452.55 510.7,447.87 515.3,452.06 520,449.29" fill="none" stroke="#000000" stroke-width="1.35" stroke-linejoin="round" /><polyline points="111.25,450.5 112.38,444.12 113.5,437 114.62,430.85 115.75,421.25 116.88,420.93 118,419 119.12,416.48 120.25,412.25 121.4,414.5 122.5,419 123.62,414.44 124.75,412.25" fill="none" stroke="#1408d2" stroke-width="1.8" stroke-linejoin="round" /><polyline points="135,431 136.5,437 138.25,441.5 139.17,441.86 140.08,442.02 141,440 142,438.81 143,437.8 144,439.69 145,437 146,434.6 147,435.9 148,434 148.94,433.64 149.88,430.3 150.81,432.53 151.75,430.25 152.83,432.07 153.92,431.26 155,431 156.17,431.69 157.33,431.75 158.5,430.25 159.67,428.39 160.83,429.51 162,429 163,429.35 164,431.01 165,430 166.25,430.77 167.5,429.1 169,431 169.95,431.93 170.9,430.25" fill="none" stroke="#1408d2" stroke-width="1.8" stroke-linejoin="round" /><polyline points="378,432.04 379.25,434.59 380.5,433.29 381.75,435.41 383,434.72 384.25,436.81 385.5,435.2 386.75,437.33 388,435.52 389.25,437.41 390.5,434.95 391.75,438.03 393,436.1 394.25,437.93 395.5,436.09 396.75,438.37 398,435.78 399.25,438.71 400.5,436.25 401.75,438.16 403,436.52 404.25,439.2 405.5,436.6 406.75,439.11 408,437.27 409.25,438.57 410.5,436.31 411.75,438.3 413,436.42 414.25,438.4 415.5,436.1 416.75,438.04 418,435.26 419.25,437.25 420.5,435.28 421.75,437.77 423,435.15 424.25,437.37 425.5,434.61 426.75,436.57 428,434.72 429.25,437.41 430.5,435.65 431.75,437.84 433,435.58 434.25,438.06 435.5,436.21 436.75,438.42 438,436.21 439.25,439.35 440.5,436.59 441.75,439.4 443,437.22 444.25,438 445.5,436.4 446.75,438.71 448,436.76 449.25,438.01 450.5,435.44 451.75,436.66 453,436.17 454.25,438.95 455.5,437.92 456.75,439.27 458,437.61 459.25,440 460.5,436.9 461.75,439.6 463,437.11 464.25,439.4 465.5,436.88 466.75,438.01 468,436.5 469.25,437.7 470.5,434.84 471.75,436.51 472.4,436.07 473.3,432.2 474.2,436.69 474.25,437.65 475.5,435.9 476.75,438.14 478,436.81 479.25,438.57 480.5,436.98 481.75,437.76 483,436.44 484.25,438.34 485.3,436.92 486.2,431 487.1,437.64 488,437.26 489.25,439.99 490.5,437.76 491.75,440.36 493,438.89 494.25,442.11 495.5,440.12 496.75,442.35 498,440.97 499.25,443.33 500.5,442 501.75,443.8 503,443.8 503.5,444 504.4,410 505.3,444 505.5,443.92 506.75,444.3 508,443.12 509.25,444.61 510.5,443.03 511.75,444.45 513,444.01 514.25,445.2 515.5,443.99 516.75,445.05 518,444.27 519.25,445.58 520.5,444.07 521.75,445.74 523,444 524.25,446.28 525.5,445.01 526.75,446.84 528,445.77 529.25,447.25 530.5,446.48 531.75,449.44 533,447.99" fill="none" stroke="#1408d2" stroke-width="1.35" stroke-linejoin="round" /><polyline points="55.5,442.35 56.41,445.24 57.32,440.47 58.23,443.73 59.14,437.02 60.05,443.26 60.96,435.68 61.87,444.53 62.78,438.71 63.69,445.01 64.6,433.74 65.51,445.1 66.42,432.23 67.33,441.45 68.24,432.35 69.15,441.05 70.06,431.41 70.97,437.36 71.88,427.07 72.79,440.88 73.7,419.76 74.61,438.09 75.52,411.14 76.43,420.47 77.34,402.48 78.25,412.25 79.16,406.44 80.07,418.27 80.98,416.6 81.89,434.12 82.8,416.05 83.7,431.17 84.61,413.35 85.52,428.61 86.43,416.52 87.34,431.85 88.25,428.08 89.16,445.79 90.07,438.04 90.98,443.59 91.89,426.33 92.8,436.5 93.71,415.9 94.62,437.82 95.53,418.07 96.44,437.15 97.35,425.83 98.26,434.17 99.17,421.68 100.08,440.07 100.99,428.06 101.9,442.06 102.81,435.16 103.72,445.13 104.63,428.54 105.54,447.08 106.45,432.98 107.36,446.06 108.27,437.54 109.18,445.54 110.09,439.51 111,451.07" fill="none" stroke="#d40f1a" stroke-width="1.45" stroke-linejoin="round" /><polyline points="111,451.07 111.25,450.5 113.5,439.25 114.63,437.11 115.77,431.43 116.9,428 118.02,427.01 119.13,421.11 120.25,421.25 121.38,419.86 122.5,419 123.62,416.69 124.75,412.25 126.55,397.6 128.1,412.25 129.25,414.43 130.4,419 131.5,422.08 132.6,421.25 133.73,428.27 134.87,429.68 136,437 137.12,439.41 138.25,446 139.38,446.18 140.5,446 141.4,447.03 142.3,443.68 143.2,442.05 144.1,442.06 145,441.5 145.9,438.53 146.8,438.48 147.7,438.53 148.6,437.88 149.5,437 150.4,435.15 151.3,434.46 152.2,433.72 153.1,434.1 154,433.6 154.9,432.91 155.8,431.95 156.7,435.78 157.6,434.77 158.5,434.75 159.4,435.15 160.3,432.91 161.2,436.23 162.1,435.41 163,433.6 163.9,431.71 164.8,432.42 165.7,433.91 166.6,433.65 167.5,432.5 168.62,436.67 169.75,437 170.9,430.25 172,414.5 174.25,369.5 176.5,367.25 177.6,406.6 178.75,357.1 181,376.25 183.25,380.75 185.5,393 188.4,419 191.75,446 195,451.6 199.6,453.9 203,452.3 209.75,453.2 214.25,447.1 217.6,447.1 219.9,439.25 222.1,441.5 224.4,438.1 226.6,444.2 228.9,443.75 234.5,450.5 241.25,450.5 252.5,447.1 258.1,444.2 258.8,439.25 259.5,444.2 263.75,441.5 268.25,437 272.75,431.4 277.25,425.75 280.6,414.5 281.75,410 284,417.9 285.1,411.1 287.4,419 289.6,412.25 290.75,417.9 291.9,366 293.5,403.25 295.25,407.75 297.5,402.1 302,394.25 306.5,374 309.9,369.5 313.25,365 315.5,359.4 318.4,363.9 320,306.5 321.3,280 322.9,351.5 324.5,336.9 325.8,366.1 329.6,367.25 330.75,367.25 332.55,341.4 334.1,371.75 335.25,374.1 336.4,378.5 337.5,382.85 338.6,385.25 339.73,388.99 340.87,390.56 342,394.25 343.13,397.24 344.27,400.11 345.4,403.25 346.52,406.29 347.63,409.29 348.75,411.1 349.88,413.91 351,419 351.9,417.68 352.8,419 353.9,374 355.5,420.1 358.9,417.9 362.25,423.5 365.6,424.6 368.55,410 370.1,425.75 373,428 374.6,406.6 375.75,431.4 378,433.6" fill="none" stroke="#d40f1a" stroke-width="1.8" stroke-linejoin="round" /><polyline points="378,433.6 379,433.54 379.9,434.04 380.8,434.99 381.7,435.65 382.6,436.45 383.5,436.58 384.4,436.91 385.3,437.46 386.2,437.3 387.1,437.7 388,437.26 388.9,438.57 389.8,438.07 390.7,439.3 391.6,439.18 392.5,438.98 393.4,439 394.3,439.44 395.2,440.22 396.1,440.44 397,439.76 397.9,439.83 398.8,440.6 399.7,440.82 400.6,440.68 401.5,440.59 402.4,441.25 403.3,440.56 404.2,441.1 405.1,441.45 406,442.17 406.9,441.76 407.8,442.12 408.7,441.57 409.6,441.26 410.5,441.3 411.4,442.33 412.3,442 413.2,441.46 414.1,441.09 415,441.78 415.9,442.06 416.8,441.73 417.7,441.52 418.6,442.12 419.5,442.51 420.4,441.56 421.3,441.31 422.2,441.76 423.1,441.91 424,442.3 424.9,441.65 425.8,442.51 426.7,442.45 427.6,442.15 428.5,441.76 429.4,442.85 430.3,441.96 431.2,442.7 432.1,441.9 433,441.91 433.9,442.69 434.8,442.06 435.7,443.01 436.6,442.4 437.5,441.99 438.4,442.07 439.3,442.36 440.2,442.74 441.1,443.15 442,442.04 442.9,442.41 443.8,442.17 444.7,443.26 445.6,442.11 446.5,442 447.4,442.03 448.3,442.52 450,442.7 461.7,443.8 472.2,442.7 473.3,433.3 474.5,441.5 485,439.2 486.2,428.7 487.3,439.2 496.7,442.7 502.5,447.3 504.4,407.7 506,447.3 510.7,450.8 520,448.5 524.7,432.2 527,447.3 534,449.6 539.8,439.2 541.5,450.8 546.8,446.2 549.2,450.8 552.7,447.3 557.3,428.7 558.5,433 559.7,431.3 562,449.6 564.3,454.3 578.3,455 579.5,453.2 584.2,454.3 587.7,442.7 588.5,455.5" fill="none" stroke="#d40f1a" stroke-width="1.35" stroke-linejoin="round" /></g>
<g clip-path="url(#c3)"><g transform="translate(-1.5 581.4)"><polyline points="111.4,208 112.5,210 113.5,205.95 114.27,214.6 115.04,206.27 115.81,215.38 116.58,205.19 117.35,214.03 118.12,201.98 118.88,211.95 119.65,200.45 120.42,210.71 121.19,199.62 121.96,210.37 122.73,200.2 123.5,206.4 124.4,202.5" fill="none" stroke="#000000" stroke-width="1.3" stroke-linejoin="round" /><polyline points="140,181 142,178 144,177 145,178.5 146,176 148,176.5 149,174 150,175 151,172 153,171 155,168 156,170 157,167 160,163 162.5,161 165,159.5 167.5,157.5 170,156" fill="none" stroke="#000000" stroke-width="1.8" stroke-linejoin="round" /><polyline points="375,56.6 375.15,56.52 375.3,56.44 375.45,56.37 375.6,56.29 375.75,56.21 375.9,56.13 376.05,56.06 376.2,55.98 376.35,55.92 376.5,55.87 376.65,55.86 376.8,55.89 376.95,55.97 377.1,56.1 377.25,56.24 377.4,56.35 377.55,56.36 377.7,56.27 377.85,56.06 378,55.78 378.15,55.48 378.3,55.21 378.45,54.99 378.6,54.82 378.75,54.69 378.9,54.59 379.05,54.51 379.2,54.46 379.35,54.44 379.5,54.49 379.65,54.63 379.8,54.91 379.95,55.32 380.1,55.81 380.25,56.29 380.4,56.6 380.55,56.65 380.7,56.4 380.85,55.89 381,55.25 381.15,54.62 381.3,54.08 381.45,53.68 381.6,53.4 381.75,53.21 381.9,53.08 382.05,52.99 382.2,52.9 382.35,52.83 382.5,52.77 382.65,52.74 382.8,52.77 382.95,52.92 383.1,53.25 383.25,53.83 383.4,54.68 383.55,55.73 383.7,56.78 383.85,57.58 384,57.88 384.15,57.57 384.3,56.72 384.45,55.56 384.6,54.34 384.75,53.28 384.9,52.48 385.05,51.96 385.2,51.65 385.35,51.48 385.5,51.39 385.65,51.41 385.8,51.51 385.95,51.78 386.1,52.3 386.25,53.16 386.4,54.39 386.55,55.87 386.7,57.34 386.85,58.43 387,58.84 387.15,58.43 387.3,57.3 387.45,55.77 387.6,54.18 387.75,52.83 387.9,51.84 388.05,51.19 388.2,50.81 388.35,50.61 388.5,50.49 388.65,50.5 388.8,50.6 388.95,50.86 389.1,51.37 389.25,52.21 389.4,53.4 389.55,54.84 389.7,56.27 389.85,57.33 390,57.73 390.15,57.33 390.3,56.22 390.45,54.7 390.6,53.13 390.75,51.77 390.9,50.75 391.05,50.08 391.2,49.68 391.35,49.44 391.5,49.29 391.65,49.28 391.8,49.37 391.95,49.63 392.1,50.16 392.25,51.07 392.4,52.38 392.55,53.97 392.7,55.55 392.85,56.74 393,57.19 393.15,56.74 393.3,55.49 393.45,53.8 393.6,52.03 393.75,50.52 393.9,49.39 394.05,48.64 394.2,48.16 394.35,47.86 394.5,47.67 394.65,47.53 394.8,47.41 394.95,47.33 395.1,47.29 395.25,47.36 395.4,47.63 395.55,48.27 395.7,49.41 395.85,51.14 396,53.38 396.15,55.77 396.3,57.79 396.45,58.85 396.6,58.63 396.75,57.14 396.9,54.8 397.05,52.17 397.2,49.78 397.35,47.92 397.5,46.65 397.65,45.86 397.8,45.4 397.95,45.39 398.1,45.56 398.25,45.87 398.4,46.31 398.55,46.91 398.7,47.7 398.85,48.67 399,49.81 399.15,51.07 399.3,52.38 399.45,53.64 399.6,54.74 399.75,55.57 399.9,56.05 400.05,56.12 400.2,55.77 400.35,55.04 400.5,53.99 400.65,52.74 400.8,51.39 400.95,50.04 401.1,48.79 401.25,47.68 401.4,46.75 401.55,46.01 401.7,45.45 401.85,45.03 402,44.73 402.15,44.53 402.3,44.5 402.45,44.67 402.6,44.93 402.75,45.33 402.9,45.9 403.05,46.69 403.2,47.71 403.35,48.96 403.5,50.44 403.65,52.06 403.8,53.75 403.95,55.36 404.1,56.77 404.25,57.84 404.4,58.46 404.55,58.55 404.7,58.1 404.85,57.16 405,55.83 405.15,54.23 405.3,52.52 405.45,50.81 405.6,49.22 405.75,47.82 405.9,46.66 406.05,45.74 406.2,45.04 406.35,44.53 406.5,44.17 406.65,43.94 406.8,43.78 406.95,43.71 407.1,43.81 407.25,43.97 407.4,44.22 407.55,44.6 407.7,45.14 407.85,45.88 408,46.83 408.15,48 408.3,49.36 408.45,50.87 408.6,52.42 408.75,53.91 408.9,55.21 409.05,56.2 409.2,56.76 409.35,56.84 409.5,56.43 409.65,55.57 409.8,54.36 409.95,52.9 410.1,51.32 410.25,49.76 410.4,48.3 410.55,47.02 410.7,45.96 410.85,45.11 411,44.47 411.15,44 411.3,43.68 411.45,43.46 411.6,43.31 411.75,43.33 411.9,43.46 412.05,43.68 412.2,44.02 412.35,44.5 412.5,45.17 412.65,46.04 412.8,47.14 412.95,48.45 413.1,49.91 413.25,51.46 413.4,52.99 413.55,54.37 413.7,55.47 413.85,56.19 414,56.43 414.15,56.19 414.3,55.47 414.45,54.36 414.6,52.96 414.75,51.41 414.9,49.83 415.05,48.32 415.2,46.98 415.35,45.84 415.5,44.92 415.65,44.21 415.8,43.69 415.95,43.31 416.1,43.06 416.25,42.89 416.4,42.78 416.55,42.71 416.7,42.67 416.85,42.63 417,42.62 417.15,42.61 417.3,42.62 417.45,42.66 417.6,42.74 417.75,42.91 417.9,43.19 418.05,43.64 418.2,44.34 418.35,45.34 418.5,46.72 418.65,48.54 418.8,50.81 418.95,53.51 419.1,56.54 419.25,59.74 419.4,62.9 419.55,65.75 419.7,68.02 419.85,69.49 420,70 420.15,69.49 420.3,68.01 420.45,65.72 420.6,62.85 420.75,59.65 420.9,56.39 421.05,53.29 421.2,50.53 421.35,48.18 421.5,46.29 421.65,44.84 421.8,43.76 421.95,43.01 422.1,42.49 422.25,42.15 422.4,41.93 422.55,41.79 422.7,41.7 422.85,41.63 423,41.59 423.15,41.55 423.3,41.52 423.45,41.5 423.6,41.47 423.75,41.44 423.9,41.42 424.05,41.41 424.2,41.44 424.35,41.46 424.5,41.49 424.65,41.52 424.8,41.55 424.95,41.59 425.1,41.63 425.25,41.7 425.4,41.8 425.55,41.96 425.7,42.21 425.85,42.6 426,43.2 426.15,44.1 426.3,45.39 426.45,47.17 426.6,49.52 426.75,52.49 426.9,56.05 427.05,60.12 427.2,64.49 427.35,68.88 427.5,72.97 427.65,76.38 427.8,78.78 427.95,79.92 428.1,79.69 428.25,78.11 428.4,75.36 428.55,71.71 428.7,67.52 428.85,63.15 429,58.91 429.15,55.07 429.3,51.78 429.45,49.09 429.6,47.02 429.75,45.48 429.9,44.4 430.05,43.68 430.2,43.21 430.35,42.94 430.5,42.78 430.65,42.7 430.8,42.67 430.95,42.67 431.1,42.68 431.25,42.7 431.4,42.72 431.55,42.74 431.7,42.77 431.85,42.8 432,42.82 432.15,42.85 432.3,42.88 432.45,42.9 432.6,42.93 432.75,42.96 432.9,42.98 433.05,43 433.2,43 433.35,43 433.5,43 433.65,43 433.8,43 433.95,43 434.1,43 434.25,43.01 434.4,43.02 434.55,43.03 434.7,43.06 434.85,43.11 435,43.2 435.15,43.35 435.3,43.58 435.45,43.94 435.6,44.45 435.75,45.16 435.9,46.1 436.05,47.3 436.2,48.73 436.35,50.38 436.5,52.15 436.65,53.93 436.8,55.59 436.95,56.97 437.1,57.95 437.25,58.42 437.4,58.32 437.55,57.68 437.7,56.55 437.85,55.06 438,53.34 438.15,51.55 438.3,49.81 438.45,48.23 438.6,46.87 438.75,45.76 438.9,44.9 439.05,44.26 439.2,43.8 439.35,43.49 439.5,43.29 439.65,43.17 439.8,43.09 439.95,43.05 440.1,43.02 440.25,43 440.4,42.99 440.55,42.98 440.7,42.97 440.85,42.96 441,42.95 441.15,42.94 441.3,42.94 441.45,42.93 441.6,42.92 441.75,42.91 441.9,42.91 442.05,42.9 442.2,42.89 442.35,42.88 442.5,42.88 442.65,42.87 442.8,42.86 442.95,42.85 443.1,42.85 443.25,42.84 443.4,42.83 443.55,42.83 443.7,42.83 443.85,42.85 444,42.88 444.15,42.94 444.3,43.06 444.45,43.27 444.6,43.61 444.75,44.15 444.9,44.95 445.05,46.11 445.2,47.69 445.35,49.76 445.5,52.34 445.65,55.4 445.8,58.83 445.95,62.45 446.1,66.01 446.25,69.21 446.4,71.77 446.55,73.43 446.7,74 446.85,73.43 447,71.77 447.15,69.21 447.3,65.99 447.45,62.42 447.6,58.78 447.75,55.34 447.9,52.26 448.05,49.66 448.2,47.56 448.35,45.96 448.5,44.79 448.65,43.96 448.8,43.41 448.95,43.05 449.1,42.83 449.25,42.69 449.4,42.61 449.55,42.56 449.7,42.53 449.85,42.52 450,42.5 450.15,42.5 450.3,42.49 450.45,42.5 450.6,42.51 450.75,42.54 450.9,42.59 451.05,42.69 451.2,42.85 451.35,43.11 451.5,43.5 451.65,44.07 451.8,44.84 451.95,45.85 452.1,47.11 452.25,48.61 452.4,50.29 452.55,52.07 452.7,53.82 452.85,55.39 453,56.65 453.15,57.46 453.3,57.74 453.45,57.46 453.6,56.65 453.75,55.39 453.9,53.8 454.05,52.04 454.2,50.25 454.35,48.55 454.5,47.03 454.65,45.75 454.8,44.71 454.95,43.92 455.1,43.34 455.25,42.93 455.4,42.65 455.55,42.47 455.7,42.35 455.85,42.28 456,42.24 456.15,42.21 456.3,42.19 456.45,42.18 456.6,42.17 456.75,42.16 456.9,42.16 457.05,42.15 457.2,42.14 457.35,42.13 457.5,42.13 457.65,42.12 457.8,42.11 457.95,42.1 458.1,42.1 458.25,42.09 458.4,42.08 458.55,42.07 458.7,42.07 458.85,42.06 459,42.05 459.15,42.04 459.3,42.04 459.45,42.03 459.6,42.02 459.75,42.01 459.9,42.01 460.05,42.01 460.2,42.02 460.35,42.04 460.5,42.05 460.65,42.07 460.8,42.08 460.95,42.1 461.1,42.13 461.25,42.16 461.4,42.2 461.55,42.27 461.7,42.38 461.85,42.54 462,42.79 462.15,43.17 462.3,43.7 462.45,44.44 462.6,45.4 462.75,46.63 462.9,48.09 463.05,49.76 463.2,51.55 463.35,53.36 463.5,55.03 463.65,56.43 463.8,57.42 463.95,57.88 464.1,57.79 464.25,57.14 464.4,56.02 464.55,54.52 464.7,52.81 464.85,51.02 465,49.3 465.15,47.73 465.3,46.39 465.45,45.29 465.6,44.45 465.75,43.82 465.9,43.39 466.05,43.1 466.2,42.91 466.35,42.8 466.5,42.74 466.65,42.71 466.8,42.7 466.95,42.71 467.1,42.72 467.25,42.73 467.4,42.74 467.55,42.76 467.7,42.77 467.85,42.79 468,42.8 468.15,42.82 468.3,42.83 468.45,42.85 468.6,42.86 468.75,42.88 468.9,42.89 469.05,42.91 469.2,42.92 469.35,42.94 469.5,42.95 469.65,42.97 469.8,42.98 469.95,43 470.1,43.01 470.25,43.03 470.4,43.05 470.55,43.08 470.7,43.13 470.85,43.19 471,43.28 471.15,43.43 471.3,43.66 471.45,43.99 471.6,44.47 471.75,45.12 471.9,45.99 472.05,47.07 472.2,48.38 472.35,49.86 472.5,51.46 472.65,53.07 472.8,54.56 472.95,55.8 473.1,56.67 473.25,57.09 473.4,57 473.55,56.43 473.7,55.43 473.85,54.1 474,52.58 474.15,51 474.3,49.46 474.45,48.07 474.6,46.88 474.75,45.91 474.9,45.16 475.05,44.61 475.2,44.23 475.35,43.97 475.5,43.81 475.65,43.71 475.8,43.66 475.95,43.64 476.1,43.63 476.25,43.64 476.4,43.65 476.55,43.66 476.7,43.67 476.85,43.69 477,43.7 477.15,43.72 477.3,43.73 477.45,43.75 477.6,43.76 477.75,43.78 477.9,43.79 478.05,43.81 478.2,43.82 478.35,43.84 478.5,43.85 478.65,43.87 478.8,43.88 478.95,43.9 479.1,43.91 479.25,43.93 479.4,43.94 479.55,43.96 479.7,43.97 479.85,43.99 480,44 480.15,44.02 480.3,44.03 480.45,44.05 480.6,44.06 480.75,44.08 480.9,44.1 481.05,44.13 481.2,44.17 481.35,44.22 481.5,44.32 481.65,44.47 481.8,44.71 481.95,45.08 482.1,45.66 482.25,46.49 482.4,47.65 482.55,49.21 482.7,51.22 482.85,53.67 483,56.51 483.15,59.64 483.3,62.85 483.45,65.93 483.6,68.61 483.75,70.62 483.9,71.77 484.05,71.94 484.2,71.11 484.35,69.37 484.5,66.9 484.65,63.95 484.8,60.77 484.95,57.63 485.1,54.71 485.25,52.17 485.4,50.06 485.55,48.39 485.7,47.14 485.85,46.25 486,45.64 486.15,45.24 486.3,44.99 486.45,44.85 486.6,44.77 486.75,44.73 486.9,44.72 487.05,44.72 487.2,44.73 487.35,44.74 487.5,44.75 487.65,44.77 487.8,44.79 487.95,44.82 488.1,44.85 488.25,44.91 488.4,44.99 488.55,45.11 488.7,45.3 488.85,45.57 489,45.96 489.15,46.49 489.3,47.19 489.45,48.07 489.6,49.13 489.75,50.33 489.9,51.62 490.05,52.92 490.2,54.12 490.35,55.13 490.5,55.83 490.65,56.17 490.8,56.1 490.95,55.64 491.1,54.84 491.25,53.78 491.4,52.57 491.55,51.31 491.7,50.09 491.85,49 492,48.06 492.15,47.3 492.3,46.72 492.45,46.29 492.6,46 492.75,45.81 492.9,45.7 493.05,45.63 493.2,45.61 493.35,45.6 493.5,45.61 493.65,45.63 493.8,45.65 493.95,45.67 494.1,45.7 494.25,45.72 494.4,45.75 494.55,45.77 494.7,45.8 494.85,45.82 495,45.85 495.15,45.88 495.3,45.9 495.45,45.93 495.6,45.96 495.75,45.99 495.9,46.02 496.05,46.06 496.2,46.11 496.35,46.19 496.5,46.3 496.65,46.45 496.8,46.68 496.95,47 497.1,47.43 497.25,48.01 497.4,48.74 497.55,49.63 497.7,50.66 497.85,51.78 498,52.93 498.15,54.03 498.3,54.98 498.45,55.69 498.6,56.1 498.75,56.16 498.9,55.87 499.05,55.26 499.2,54.4 499.35,53.37 499.5,52.28 499.65,51.2 499.8,50.2 499.95,49.33" fill="none" stroke="#000000" stroke-width="1.2" stroke-linejoin="round" /><polyline points="111.4,208 112.5,214 113.2,220 114,226 115,227 117,226.8 119,227 121,226.5 122,222 122.8,213 124.4,202.5" fill="none" stroke="#1408d2" stroke-width="1.8" stroke-linejoin="round" /><polyline points="138.5,181.9 140.5,185.9 143.2,190.6 145.8,197.3 147.8,203.9 150.2,212.6 150.8,214.6 152.2,206 153.5,197.9 154.5,204.5 155.5,209.9 157.2,205.4 159.2,193.9 161.2,187.8 163.2,178.6 165.2,168.6 168,162 170,158 170.9,155.75" fill="none" stroke="#1408d2" stroke-width="2.3" stroke-linejoin="round" /><polyline points="355,116 357,117 358.5,116 359.5,121 360.5,116 362,114 364,113 365.5,112 367.6,128 368.5,112 370,110 371.5,126 372.5,95 372.5,79.54 374.01,91.75 375.52,81.56 377.03,96.7 378.54,84.51 380.05,104.59 381.56,83.73 383.07,102.74 384.58,88.36 386.09,108.75 387.61,89.53 389.12,108.51 390.63,94.46 392.14,109.77 393.65,93.71 395.16,111.12 396.67,96.4 398.18,119.14 399.69,105.25 401.2,125.66 402.71,107.13 404.22,130.93 405.73,112.34 407.24,129.22 408.75,114.91 410.26,130.64 411.77,115.71 413.28,133.58 414.79,121.79 416.31,136.85 417.82,125.14 419.33,137.15 420.84,130.71 422.35,138.67 423.86,131.62 425.37,138.45 426.88,129.74 428.39,134.52 429.9,124.07 431.41,125.68 432.92,109.72 434.43,122.71 435.94,112.98 437.45,123.51 438.96,114.5 440.47,128.03 441.98,114.98 443.49,133.97 445.01,122.38 446.52,136.23 448.03,117.73 449.54,134.45 451.05,120.01 452.56,133.94 454.07,115.3 455.58,127.91 457.09,114.68 458.6,122.22 460.11,110.74 461.62,122.82 463.13,102.26 464.64,121.03 466.15,102.11 467.66,113.84 469.17,94.57 470.68,117.24 472.19,92.53 473.71,110.96 475.22,90.92 476.73,101.54 478.24,85.99 479.75,95.74 481.26,83.19 482.77,89.92 484.28,80.47 485.6,77.52 485.79,84.28 486,115 486.4,76.88 487.3,78.04 488.81,82.12 490.32,74.87 491.83,76.2 493.34,68.08 494.85,68.98 496.36,65.08 497.87,66.39 499.38,62.69 499.6,61.32 500,75 500.4,60.76 500.89,64.72 502.41,60.1 503.92,62.74 505.43,58.49 506.94,60.38 508.45,56 509.96,57.85 510.3,54.8 510.7,82 511.1,54.27 511.47,54.16 512.98,55.26 514.49,52.04 516,53" fill="none" stroke="#1408d2" stroke-width="1.45" stroke-linejoin="round" /><polyline points="55.5,227.31 56.05,229.22 56.6,227.46 57.15,229.27 57.71,227.82 58.26,228.83 58.81,227.28 59.36,229.09 59.91,227.41 60.46,229 61.01,227.23 61.57,228.64 62.12,227.87 62.67,228.91 63.22,227.48 63.77,229.19 64.32,227.19 64.87,228.99 65.43,227.3 65.98,228.62 66.53,227.21 67.08,229.22 67.63,227.8 68.18,228.83 68.73,227.18 69.29,228.82 69.84,227.07 70.39,228.82 70.94,227.79 71.49,228.56 72.04,227.56 72.59,229.01 73.14,227.3 73.7,229.08 74.25,227.6 74.8,228.79 75.35,227.56 75.9,228.89 76.45,226.97 77,228.41 77.56,227.47 78.11,228.29 78.66,227.19 79.21,228.23 79.76,227 80.31,228.69 80.86,226.65 81.42,228.49 81.97,226.03 82.52,227.84 83.07,224.7 83.62,226.41 84.17,224.31 84.72,225.1 85.28,223.32 85.83,224.43 86.38,223.12 86.93,223.61 87.48,221.42 88.03,223.44 88.58,220.18 89.14,222.51 89.69,219.06 90.24,221.65 90.79,220.98 91.34,223.3 91.89,222.38 92.44,225.2 93,223.1 93.55,226.12 94.1,222.24 94.65,224.6 95.2,222.14 95.75,224.92 96.3,221.5 96.86,226.13 97.41,222.16 97.96,225.8 98.51,222.18 99.06,224.46 99.61,221.33 100.16,225.66 100.71,221.68 101.27,222.9 101.82,215.45 102.37,223.18 102.92,214.61 103.47,219.99 104.02,215.94 104.57,221.72 105.13,215.24 105.68,218.39 106.23,214 106.78,220.09 107.33,212.93 107.88,220.48 108.43,210.24 108.99,216.53 109.54,211.18 110.09,215.92 110.64,210.42 111.19,213.97 111.74,209.76 112.29,214.24 112.85,210.26 113.4,218.98 113.95,216.88 114.5,223.66 114.5,223.17 115.1,222.83 115.7,223.46 116.3,223.2 116.9,224.94 117.5,223.37 118.1,223.11 118.7,222.9 119.3,223.59 119.9,223.19 120.5,224.74 121.1,220.44 121.7,216.28 122.3,212.6 122.9,207.41 123.5,206.46 124.1,202.51 124.7,202.1 125.3,209.16 125.9,209.96 126.5,220.22 127.1,215.58 127.7,205.95 128.3,201.3 128.9,198.51 129.5,197.39 130.1,201.82 130.7,202.26 131.3,205.11 131.9,202.03 132.5,200.44 133.1,200.59 133.7,195.8 134.3,192.81 134.9,192.44 135.5,191.87 136.1,188.56 136.7,187.71 137.3,185.47 137.9,183.73 138.5,182.75 139.1,181.33 139.7,181.33 140.3,180.6 140.9,182.04 141.5,180.38 144,180.5 146,182 148,183 151,189 153,179 155,183 156.5,185 159,173 162,166 165,161 168,157.5 170.5,155.5 172,160 173,173 175,188 176,189 177.5,156 178.5,188 181,175 183,173 185,165 188,152 189.5,140 194,132 203,125.4 218.8,113 230,105 241,96 252.5,90.5 255.3,90 255.9,95.5 256.5,89.6 258,90 258.8,102.9 259.5,88.5 261.5,86.5 262.1,90.5 262.7,86.2 265.6,85 266.1,88.5 266.6,84.8 268,84.2 269.5,84 271.6,86 275,92.75 275.5,97 276.31,105.68 277.11,96.3 277.92,113.12 278.72,102.94 279.53,116.52 280.33,98.82 281.14,126.22 281.94,103.03 282.75,129.83 283.56,103.05 284.36,133.03 285.17,109.5 285.97,127.77 286.78,113.36 287.58,133.68 288.39,113.56 289.19,129.82 290,111.07 290.5,120 291,110 292.5,158 294,123 295.5,135 297.5,140 300,150 302,158 305.4,161.4 305.5,156.43 306.26,159.24 307.03,153.51 307.79,158.41 308.55,152.54 309.32,158.87 310.08,152.85 310.84,156.28 311.61,147.93 312.37,155.33 313.13,146.63 313.89,153.45 314.66,143.19 315.42,151.92 316.18,143.64 316.95,152.93 317.71,142.02 318.47,151.18 319.24,138.69 320,151.51 321,125 322,104 323,144.5 324,130 325,122 326,145 326.5,141.5 327.25,149.91 328,140.71 328.75,148.99 329.5,142.58 330.25,149.1 331,141.63 331.75,150.5 332.5,141.93 333,123 335,152.4 340,150 346.5,137.75 348,125 350,106 351,125 352,99.5 353.5,130 354.4,135.5 355,96.43 355.45,106.59 355.91,92.16 356.36,107.65 356.82,95.57 357.27,106.6 357.73,89.84 358.18,113.46 358.64,94.3 359.09,109.89 359.55,91.85 360,113.79 360.45,85.6 360.91,108.23 361.36,88.22 361.82,113.45 362.27,92.25 362.73,108.08 363.18,90.44 363.64,112.87 364.09,90.38 364.55,112.79 365,89.88 365.45,108.62 365.91,80.86 366.36,106.72 366.82,84.76 367.27,109.92 367.73,79.92 368.18,107.4 368.64,79.86 369.09,111.29 369.55,75.43 370,111.72 370.45,72.32 370.91,108.1 371.36,74.35 371.82,102.96 372.27,77.47 372.73,106.44 373.18,79.64 373.64,105.77 374.09,69.98 374.55,100.26 375,60.18 375,59.59" fill="none" stroke="#d40f1a" stroke-width="1.8" stroke-linejoin="round" /><polyline points="375,59.59 375.2,61.7 375.4,65.19 375.6,69.59 375.8,73.45 376,75 376.2,73.44 376.4,69.53 376.6,65.02 376.8,61.39 377,63.25 377.2,67.88 377.4,71.47 377.6,71.47 377.8,67.84 378,63.1 378.2,59.62 378.4,60.5 378.6,62.51 378.8,64.28 379,65 379.2,64.27 379.4,62.45 379.6,60.33 379.8,58.6 380,59.96 380.2,64.24 380.4,71.3 380.6,80.16 380.8,87.89 381,91 381.2,87.88 381.4,80.09 381.6,71.13 381.8,63.93 382,64.88 382.2,71.83 382.4,77.21 382.6,77.2 382.8,71.79 383,64.73 383.2,62.78 383.4,69.17 383.6,77.18 383.8,84.18 384,87 384.2,84.17 384.4,77.12 384.6,68.99 384.8,72.33 385,75 385.2,72.32 385.4,66.27 385.6,64.04 385.8,66.86 386,68 386.2,66.86 386.4,64.02 386.6,60.74 386.8,65.11 387,73.01 387.2,79.1 387.4,79.1 387.6,72.99 387.8,65.05 388,63.39 388.2,67.16 388.4,69.65 388.6,69.65 388.8,67.15 389,63.35 389.2,68.64 389.4,73.31 389.6,73.31 389.8,68.63 390,73.26 390.2,81.66 390.4,87.23 390.6,87.23 390.8,81.65 391,73.22 391.2,65.27 391.4,67.72 391.6,75.49 391.8,82.27 392,85 392.2,82.27 392.4,75.47 392.6,67.65 392.8,61.38 393,63.15 393.2,69.96 393.4,75.23 393.6,75.22 393.8,69.95 394,63.09 394.2,59.73 394.4,64.56 394.6,70.6 394.8,75.88 395,78 395.2,75.88 395.4,70.6 395.6,64.53 395.8,61.46 396,67.05 396.2,71.37 396.4,71.37 396.6,67.06 396.8,61.48 397,60.89 397.2,63.81 397.4,65.73 397.6,65.73 397.8,63.81 398,60.91 398.2,64.68 398.4,72.81 398.6,79.08 398.8,79.08 399,72.82 399.2,64.7 399.4,60.34 399.6,63.79 399.8,66.79 400,68 400.2,66.8 400.4,63.8 400.6,60.37 400.8,57.62 401,61.56 401.2,67.1 401.4,71.37 401.6,71.37 401.8,67.11 402,61.58 402.2,59.63 402.4,64.24 402.6,69.99 402.8,74.99 403,77 403.2,74.99 403.4,70 403.6,65.42 403.8,71.36 404,74 404.2,71.36 404.4,65.43 404.6,60.42 404.8,62.26 405,63 405.2,62.26 405.4,60.43 405.6,63.24 405.8,67.92 406,70 406.2,67.92 406.4,70.29 406.6,79.62 406.8,87.74 407,91 407.2,87.74 407.4,79.62 407.6,70.31 407.8,62.86 408,58.32 408.2,57.1 408.4,61.04 408.6,67.71 408.8,74.83 409,78 409.2,74.83 409.4,67.72 409.6,61.46 409.8,68.79 410,79.35 410.2,90.56 410.4,97.97 410.6,97.97 410.8,90.56 411,79.35 411.2,74.36 411.4,81.02 411.6,81.02 411.8,74.36 412,65.71 412.2,67.12 412.4,69.65 412.6,69.65 412.8,67.12 413,63.3 413.2,61.6 413.4,67.8 413.6,75.54 413.8,82.29 414,85 414.2,82.29 414.4,75.54 414.6,67.8 414.8,73.11 415,76 415.2,73.11 415.4,66.62 415.6,66.64 415.8,70.46 416,72 416.2,70.46 416.4,66.64 416.6,68.83 416.8,76.56 417,80 417.2,76.56 417.4,71.63 417.6,81.71 417.8,90.48 418,94 418.2,90.48 418.4,81.71 418.6,71.63 418.8,63.57 419,64.12 419.2,71.49 419.4,77.16 419.6,77.16 419.8,71.49 420,64.12 420.2,64.67 420.4,73.77 420.6,85.13 420.8,95.03 421,99 421.2,95.03 421.4,85.13 421.6,73.77 421.8,80.01 422,84 422.2,80.01 422.4,71.05 422.6,68.7 422.8,73.19 423,75 423.2,73.19 423.4,68.7 423.6,68.83 423.8,76.56 424,80 424.2,76.56 424.4,69.93 424.6,78.97 424.8,86.84 425,90 425.2,86.83 425.4,78.93 425.6,69.84 425.8,62.54 426,58.06 426.2,57.26 426.4,61.87 426.6,69.76 426.8,78.23 427,82 427.2,78.21 427.4,69.67 427.6,61.65 427.8,59.05 428,64.06 428.2,71.94 428.4,82.29 428.6,93.23 428.8,101.76 429,105 429.2,101.75 429.4,93.18 429.6,86.79 429.8,93.97 430,96.7 430.2,93.96 430.4,86.74 430.6,77.45 430.8,69.47 431,70 431.2,69.47 431.4,67.96 431.6,65.75 431.8,63.19 432,60.63 432.2,58.37 432.4,56.53 432.6,57.23 432.8,59.81 433,63.36 433.2,67.83 433.4,72.91 433.6,78.06 433.8,82.54 434,85.61 434.2,86.7 434.4,85.6 434.6,83.65 434.8,86.86 435,88 435.2,86.86 435.4,83.64 435.6,78.93 435.8,73.5 436,76.45 436.2,81.66 436.4,85.75 436.6,88.01 436.8,88.01 437,85.75 437.2,81.65 437.4,76.43 437.6,76.22 437.8,81.4 438,85.47 438.2,87.71 438.4,87.71 438.6,85.46 438.8,81.39 439,76.2 439.2,70.68 439.4,65.54 439.6,61.22 439.8,57.92 440,55.6 440.2,54.1 440.4,53.2 440.6,53.56 440.8,54.63 441,56.29 441.2,58.66 441.4,61.76 441.6,65.48 441.8,69.46 442,73.21 442.2,76.16 442.4,77.79 442.6,77.79 442.8,76.16 443,73.2 443.2,69.44 443.4,65.43 443.6,61.7 443.8,58.56 444,56.16 444.2,54.47 444.4,53.38 444.6,52.72 444.8,52.35 445,52.33 445.2,52.73 445.4,53.5 445.6,54.88 445.8,57.18 446,60.72 446.2,65.77 446.4,72.36 446.6,80.23 446.8,88.66 447,96.6 447.2,102.82 447.4,106.26 447.6,106.26 447.8,102.83 448,96.61 448.2,88.69 448.4,80.29 448.6,72.46 448.8,65.9 449,60.89 449.2,57.38 449.4,55.12 449.6,53.78 449.8,53.03 450,52.66 450.2,52.95 450.4,53.59 450.6,54.75 450.8,56.66 451,59.62 451.2,63.84 451.4,69.34 451.6,75.91 451.8,82.94 452,89.57 452.2,94.77 452.4,97.63 452.6,97.63 452.8,94.77 453,89.58 453.2,82.98 453.4,75.97 453.6,69.44 453.8,63.97 454,59.79 454.2,56.87 454.4,54.99 454.6,53.86 454.8,53.25 455,52.94 455.2,53.01 455.4,53.38 455.6,54.02 455.8,55.09 456,56.74 456.2,59.07 456.4,62.13 456.6,65.77 456.8,69.67 457,73.33 457.2,76.21 457.4,77.79 457.6,77.79 457.8,76.21 458,73.35 458.2,69.7 458.4,65.83 458.6,62.22 458.8,59.2 459,56.9 459.2,55.3 459.4,54.26 459.6,53.65 459.8,53.32 460,53.15 460.2,53.05 460.4,53 460.6,52.97 460.8,52.95 461,52.94 461.2,52.94 461.4,52.96 461.6,53.03 461.8,53.19 462,53.53 462.2,54.18 462.4,55.32 462.6,57.15 462.8,59.88 463,63.62 463.2,68.31 463.4,73.63 463.6,79 463.8,83.67 464,86.86 464.2,88 464.4,86.86 464.6,83.66 464.8,78.98 465,73.59 465.2,68.24 465.4,63.51 465.6,59.73 465.8,56.96 466,55.09 466.2,53.92 466.4,53.25 466.6,52.88 466.8,52.69 467,52.59 467.2,52.55 467.4,52.58 467.6,52.67 467.8,52.84 468,53.19 468.2,53.81 468.4,54.81 468.6,56.3 468.8,58.34 469,60.91 469.2,63.82 469.4,66.77 469.6,69.32 469.8,71.08 470,71.7 470.2,71.08 470.4,69.32 470.6,66.74 470.8,63.78 471,60.83 471.2,58.23 471.4,56.15 471.6,56.71 471.8,59.78 472,64.18 472.2,69.94 472.4,76.81 472.6,84.19 472.8,91.14 473,96.6 473.2,99.61 473.4,99.61 473.6,96.6 473.8,91.13 474,84.16 474.2,76.75 474.4,69.84 474.6,64.05 474.8,59.61 475,56.5 475.2,54.46 475.4,53.23 475.6,52.53 475.8,52.15 476,51.96 476.2,51.85 476.4,51.79 476.6,51.74 476.8,51.7 477,51.67 477.2,51.65 477.4,51.64 477.6,51.67 477.8,51.75 478,51.93 478.2,52.28 478.4,52.85 478.6,53.73 478.8,54.94 479,56.48 479.2,58.23 479.4,60 479.6,61.55 479.8,62.62 480,63 480.2,62.62 480.4,61.54 480.6,59.95 480.8,58.12 481,56.29 481.2,54.67 481.4,53.36 481.6,52.39 481.8,51.72 482,51.29 482.2,51.03 482.4,50.88 482.6,50.78 482.8,50.72 483,50.67 483.2,50.64 483.4,50.61 483.6,50.59 483.8,50.6 484,50.67 484.2,50.86 484.4,51.3 484.6,52.19 484.8,53.82 485,56.56 485.2,60.82 485.4,66.91 485.6,74.91 485.8,84.45 486,94.71 486.2,104.38 486.4,111.97 486.6,116.16 486.8,116.16 487,111.96 487.2,104.34 487.4,94.63 487.6,84.31 487.8,74.68 488,66.59 488.2,60.4 488.4,56.04 488.6,53.22 488.8,51.51 489,50.55 489.2,50.03 489.4,49.77 489.6,49.64 489.8,49.56 490,49.51 490.2,49.53 490.4,49.56 490.6,49.59 490.8,49.62 491,49.66 491.2,49.7 491.4,49.75 491.6,49.85 491.8,50.01 492,50.31 492.2,50.85 492.4,51.75 492.6,53.18 492.8,55.3 493,58.18 493.2,61.76 493.4,65.81 493.6,69.89 493.8,73.43 494,75.84 494.2,76.7 494.4,75.84 494.6,73.44 494.8,69.94 495,65.91 495.2,61.93 495.4,58.42 495.6,55.63 495.8,53.61 496,52.25 496.2,51.42 496.4,50.96 496.6,50.72 496.8,50.62 497,50.59 497.2,50.6 497.4,50.62 497.6,50.64 497.8,50.67 498,50.7 498.2,50.73 498.4,50.76 498.6,50.79 498.8,50.82 499,50.85 499.2,50.88 499.4,50.91 499.6,50.94 499.8,50.97 500,51 500.2,51.08 500.4,51.16 500.6,51.24 500.8,51.32 501,51.4 501.2,51.49 501.4,51.58 501.6,51.7 501.8,51.88 502,52.17 502.2,52.69 502.4,53.62 502.6,55.23 502.8,57.86 503,61.88 503.2,67.57 503.4,74.98 503.6,83.79 503.8,93.21 504,102.06 504.2,108.99 504.4,112.81 504.6,112.81 504.8,109.01 505,102.14 505.2,93.34 505.4,83.98 505.6,75.22 505.8,67.85 506,62.19 506.2,58.19 506.4,55.57 506.6,53.96 506.8,53.03 507,52.51 507.2,52.21 507.4,52.03 507.6,51.91 507.8,51.82 508,51.76 508.2,51.75 508.4,51.81 508.6,52.03 508.8,52.52 509,53.43 509.2,54.95 509.4,57.26 509.6,60.46 509.8,64.5 510,69.12 510.2,73.8 510.4,77.89 510.6,80.7 510.8,81.7 511,80.69 511.2,77.85 511.4,73.67 511.6,68.84 511.8,64.02 512,59.75 512.2,56.33 512.4,53.82 512.6,52.12 512.8,51.04 513,50.41 513.2,50.05 513.4,49.85 513.6,49.73 513.8,49.66 514,49.61 514.2,49.56 514.4,49.52 514.6,49.48 514.8,49.44 515,49.4 515.2,49.37 515.4,49.34 515.6,49.34 515.8,49.38 516,49.52 516.2,49.81 516.4,50.38 516.6,51.35 516.8,52.88 517,55.09 517.2,58.1 517.4,61.63 517.6,65.39 517.8,68.89 518,71.62 518.2,73.11 518.4,73.11 518.6,71.64 518.8,69 519,65.66 519.2,62.16 519.4,58.93 519.6,56.26 519.8,54.26 520,52.91 520.2,52.08 520.4,51.64 520.6,51.45 520.8,51.45 521,51.78 521.2,52.29 521.4,53.11 521.6,54.41 521.8,56.33 522,59.02 522.2,62.39 522.4,66.41 522.6,70.74 522.8,74.81 523,78.01 523.2,79.77 523.4,79.77 523.6,78.01 523.8,74.8 524,70.72 524.2,72.84 524.4,80.95 524.6,89.65 524.8,97.85 525,104.29 525.2,107.84 525.4,107.84 525.6,104.29 525.8,97.85 526,89.63 526.2,80.91 526.4,72.78 526.6,65.96 526.8,60.74 527,57.09 527.2,54.72 527.4,53.3 527.6,52.5 527.8,52.09 528,51.89 528.2,51.79 528.4,51.75 528.6,51.72 528.8,51.71 529,51.7 529.2,51.72 529.4,51.74 529.6,51.76 529.8,51.78 530,51.8 530.2,51.83 530.4,51.86 530.6,51.92 530.8,52.02 531,52.2 531.2,52.54 531.4,53.14 531.6,54.12 531.8,55.63 532,57.76 532.2,60.55 532.4,63.87 532.6,67.42 532.8,70.76 533,73.37 533.2,74.81 533.4,74.81 533.6,73.38 533.8,70.77 534,67.46 534.2,63.95 534.4,66.95 534.6,69.58 534.8,71.36 535,72 535.2,71.37 535.4,69.59 535.6,66.99 535.8,64 536,61.04 536.2,58.44 536.4,56.37 536.6,54.86 536.8,53.85 537,53.24 537.2,52.95 537.4,52.84 537.6,52.86 537.8,53.1 538,53.49 538.2,54.18 538.4,55.35 538.6,57.25 538.8,60.13 539,64.2 539.2,69.48 539.4,75.75 539.6,82.45 539.8,88.73 540,93.65 540.2,96.35 540.4,96.35 540.6,93.67 540.8,88.81 541,82.64 541.2,76.12 541.4,70.06 541.6,65.01 541.8,61.18 542,58.53 542.2,56.85 542.4,55.88 542.6,55.38 542.8,55.17 543,55.11 543.2,55.04 543.4,55.02 543.6,55.01 543.8,55 544,55 544.2,55 544.4,55.01 544.6,55.03 544.8,55.07 545,55.17 545.2,55.62 545.4,56.25 545.6,57.18 545.8,58.56 546,60.53 546.2,63.21 546.4,66.61 546.6,70.55 546.8,74.69 547,78.52 547.2,81.48 547.4,83.09 547.6,83.1 547.8,81.54 548,78.75 548.2,75.27 548.4,71.64 548.6,73.1 548.8,74.51 549,75 549.2,74.53 549.4,73.23 549.6,71.4 549.8,69.37 550,67.45 550.2,65.86 550.4,64.69 550.6,63.95 550.8,65.42 551,67.55 551.2,70.27 551.4,73.78 551.6,77.93 551.8,82.35 552,86.48 552.2,89.7 552.4,91.47 552.6,91.47 552.8,89.72 553,86.57 553.2,82.58 553.4,78.37 553.6,74.47 553.8,71.24 554,68.81 554.2,68.33 554.4,70.23 554.6,72.72 554.8,75.88 555,79.73 555.2,84.07 555.4,88.98 555.6,94.21 555.8,99.46 556,104.36 556.2,108.5 556.4,111.51 556.6,113.1 556.8,113.1 557,111.49 557.2,108.43 557.4,104.18 557.6,107.14 557.8,111.68 558,113.3 558.2,111.67 558.4,107.07 558.6,100.31 558.8,92.49 559,84.7 559.2,77.77 559.4,72.19 559.6,68.05 559.8,65.21 560,63.39 560.2,62.27 560.4,61.61 560.6,61.21 560.8,60.94 561,60.75 561.2,60.58 561.4,60.43 561.6,60.29 561.8,60.14 562,60 562.2,59.9 562.4,59.8 562.6,59.7 562.8,59.6 563,59.5 563.2,59.4 563.4,59.3 563.6,59.2 563.8,59.1 564,59 564.2,58.9 564.4,58.8 564.6,58.7 564.8,58.6 565,58.5 565.2,58.4 565.4,58.3 565.6,58.2 565.8,58.1 566,58 566.2,57.9 566.4,57.8 566.6,57.7 566.8,57.6 567,57.5 567.2,57.43 567.4,57.36 567.6,57.3 567.8,57.23 568,57.16 568.2,57.09 568.4,57.02 568.6,56.96 568.8,56.89 569,56.82 569.2,56.75 569.4,56.68 569.6,56.62 569.8,56.55 570,56.48 570.2,56.41 570.4,56.34 570.6,56.28 570.8,56.21 571,56.14 571.2,56.07 571.4,56 571.6,55.94 571.8,55.87 572,55.8 572.2,55.87 572.4,55.94 572.6,56 572.8,56.07 573,56.14 573.2,56.21 573.4,56.28 573.6,56.34 573.8,56.41 574,56.48 574.2,56.55 574.4,56.62 574.6,56.68 574.8,56.75 575,56.82 575.2,56.89 575.4,56.96 575.6,57.02 575.8,57.09 576,57.16 576.2,57.24 576.4,57.32 576.6,57.41 576.8,57.54 577,57.74 577.2,58.08 577.4,58.58 577.6,59.33 577.8,60.36 578,61.72 578.2,63.38 578.4,65.21 578.6,67.03 578.8,68.59 579,69.63 579.2,70 579.4,69.64 579.6,68.64 579.8,67.2 580,65.57 580.2,64 580.4,62.64 580.6,61.59 580.8,60.87 581,60.43 581.2,60.19 581.4,60.11 581.6,60.12 581.8,60.18 582,60.27 582.2,60.37 582.4,60.47 582.6,60.58 582.8,60.69 583,60.8 583.2,60.91 583.4,61.03 583.6,61.14 583.8,61.25 584,61.37 584.2,61.48 584.4,61.59 584.6,61.71 584.8,61.82 585,61.94 585.2,62.06 585.4,62.2 585.6,62.36 585.8,62.59 586,62.95 586.2,64.01 586.4,65.42 586.6,67.34 586.8,69.94 587,73.32 587.2,77.46 587.4,82.15 587.6,86.98 587.8,91.37 588,94.7 588.2,96.47 588.4,96.48" fill="none" stroke="#d40f1a" stroke-width="1.4" stroke-linejoin="round" /></g></g>
<g clip-path="url(#c4)"><g transform="translate(-1.5 582.7)"><polyline points="111.75,449.8 112.65,448.66 113.55,445.71 114.45,443.9 115.35,441.93 116.25,440.8 117.15,435.88 118.05,431.61 118.95,429.12 119.85,425.81 120.75,422.8 121.88,422.37 123,418.3 124.12,417.64 125.25,420" fill="none" stroke="#000000" stroke-width="1.8" stroke-linejoin="round" /><polyline points="136.5,437.8 137.6,449.47 138.5,451.7 139.4,450.27 140.3,451.56 141.2,453.79 142.1,453.67 143.23,453.31 144.37,450.82 145.5,449.7 146.4,447.42 147.3,447.76 148.2,446.53 149.1,447.25 150,445.06 150.9,443.44 151.8,443.25 152.7,444.15 153.6,440.85 154.5,441.56 155.4,441.01 156.3,441.94 157.2,441.53 158.1,439.07 159,440.17 159.9,439.52 160.8,440.34 161.7,443.65 162.6,442.4 163.5,443.87 164.4,443.88 165.3,443.6 166.2,441.18 167.1,440.25 168,440.19 169.12,441.4 170.25,439.86" fill="none" stroke="#000000" stroke-width="1.8" stroke-linejoin="round" /><polyline points="354.9,418.3 365,425 371.75,427.3 375.1,431.8 375.5,430.53 377.3,436.51 379.1,434.8 380.9,439.3 382.7,436.6 384.5,441.34 386.3,438.93 388.1,443.71 389.9,441.3 391.7,446.11 393.5,443.73 395.3,448.54 397.1,445.83 398.9,449.66 400.7,446.29 402.5,450.12 404.3,446.75 406.1,450.5 407.9,446.9 409.7,450.5 410.5,450 411.75,443.75 413,450 418,451 419.6,444.9 421,451 428,451 429.75,444.9 431,451 435,450 436.5,444.9 438,451 446,452 447.75,446 449,452 450,452 453.5,445 455.8,453.2 462.5,452.5 464,447.3 466.3,452 471,451 472.2,440.3 474.5,449.6 480,449 485,444.9 486.2,433.3 488.5,447.3 496.7,450.8 502.5,453.2 504.4,410 506,452 510.7,447.3 515.3,452 520,449.6" fill="none" stroke="#000000" stroke-width="1.35" stroke-linejoin="round" /><polyline points="111.75,449.8 112.65,431.04 113.55,410.77 114.45,392.4 115.43,392.36 116.42,390.35 117.4,390.2 118.52,389.08 119.63,387.81 120.75,389 121.9,398 123,407.82 124.1,416 125.25,420.55" fill="none" stroke="#1408d2" stroke-width="1.8" stroke-linejoin="round" /><polyline points="136.5,434 137.6,439.7 138.73,435.4 139.87,428.86 141,422.8 141.9,420.17 142.8,413.18 143.7,409.8 144.6,406.52 145.5,402.55 146.75,400.74 148,396 149,395.65 150,392.4 151.5,394 152.45,395.09 153.4,396.9 154.5,393.85 155.6,392.4 157,393.5 158,394.43 159,395.8 160.13,398.78 161.27,403.17 162.4,404.8 163.52,407.52 164.63,413.23 165.75,416 166.87,420.53 167.98,424.57 169.1,427.3 170.25,431.8" fill="none" stroke="#1408d2" stroke-width="1.8" stroke-linejoin="round" /><polyline points="354.9,414.67 356.1,417.13 357.3,415.21 358.5,416.78 359.7,415.17 360.9,417.54 362.1,416.32 363.3,418.07 364.5,416.74 365.7,416.22 366.9,410.28 368.1,406.43 368.4,404.8 369.3,414.54 370.5,415.22 371.7,408.56 372.9,407.3 374.1,399.97 374.45,400.3 375.3,410.9 376.5,414.95 377.7,415.04 378.9,412.59 380.1,413.91 381.3,410.79 382.5,411.47 383.7,409.08 384.9,410.41 386.1,407.34 387.3,409.14 388.5,405.71 389.7,407.61 390.9,405.15 392.1,406.39 393.3,403.51 394.5,404.65 395.7,402.12 396.9,403.64 398.1,401.11 399.3,401.84 400.5,399.84 401.7,400.51 402.9,397.86 404.1,399.8 405.3,397.31 406.5,398.58 407.7,395.76 408.9,398.01 410.1,395.97 411.3,397.67 412.5,394.76 413.7,397.18 414.9,394.72 416.1,395.86 417.3,393.24 418.5,395.86 419.7,392.78 420.9,394.56 422.1,393.19 423.3,394.31 424.5,392.97 425.7,394.99 426.9,392.16 428.1,394.7 429.3,393.35 430.5,396.65 431.7,395.29 432.9,397.88 434.1,396.65 435.3,400.33 436.5,398.19 437.7,398.87 438.9,395.65 440.1,396.49 441.3,394.02 442.5,395.2 443.7,393.91 444.9,395.18 446.1,393.27 447.3,395.5 448.5,393.59 449.7,394.57 450.9,393.51 452.1,396.11 453.3,394.88 454.5,396.87 455.7,396.06 456.9,398.65 458.1,396.84 459.3,398.98 460.5,398.58 461.7,400.57 462.9,399.24 464.1,402.07 465.3,401.14 466.5,403.07 467.7,402.06 468.9,403.26 470.1,400.12 471.3,400.13 472.5,396.31 473.7,399.72 474.9,399.47 476.1,402.99 477.3,401.95 478.5,404.89 479.7,402.45 480.9,405.49 482.1,404.61 483.3,407.16 484.5,406.23 485.7,408.28 486.9,407.38 488.1,410.77 489.3,409.47 490.5,412.87 491.7,412.06 492.9,416.02 494.1,416.01 495.3,418.53 496.5,418.54 497.7,422.25 498.9,421.07 500.1,424.12 501.3,423.09 502.5,418.2 503.7,404.1 504.2,400 504.9,410.53 506.1,425.11 507.3,429.88 508.5,430.34 509.7,434.47 510.9,434.74 512.1,438.88 513.3,437.74 514.5,441.24 515.7,441.25 516.9,444.53 518.1,442.63 519.3,445.62 520.5,444.56 521.7,446.91 522.9,438.49 524.1,434.81 524.7,430.3 525.3,432.65 526.5,442.17" fill="none" stroke="#1408d2" stroke-width="1.35" stroke-linejoin="round" /><polyline points="55.5,442.12 56.41,444.78 57.32,440.36 58.23,444.38 59.14,436.7 60.05,441.56 60.96,434.41 61.87,444.73 62.78,438.39 63.69,444.7 64.6,434.43 65.51,445.24 66.42,432.36 67.33,442.05 68.24,433.63 69.15,441.58 70.06,430.45 70.97,438.18 71.88,425.4 72.79,437.6 73.7,419.36 74.61,435.05 75.52,412.32 76.43,418.01 77.34,402.74 78.25,411.77 79.16,406.47 80.07,419.46 80.98,416.27 81.89,433.96 82.8,416.19 83.7,434.18 84.61,414.55 85.52,427.99 86.43,417.11 87.34,430.27 88.25,427.34 89.16,444.38 90.07,437.11 90.98,444.09 91.89,422.87 92.8,436.97 93.71,416.85 94.62,438.84 95.53,418.32 96.44,436.85 97.35,421.94 98.26,435.22 99.17,417.47 100.08,436.92 100.99,430.68 101.9,442.8 102.81,431.84 103.72,444.99 104.63,427.45 105.54,442.24 106.45,431.85 107.36,446.33 108.27,438.15 109.18,445.95 110.09,438.96 111,451.27" fill="none" stroke="#d40f1a" stroke-width="1.45" stroke-linejoin="round" /><polyline points="111,451.27 111.75,449.8 112.88,430.39 114,409.3 115.1,392.4 116.5,391 117.5,390.24 118.5,391.3 119.62,393.3 120.75,392.4 121.9,404.8 123,418.3 124.12,417.78 125.25,420.55 126.4,396.9 128.1,412.25 129.25,415.74 130.4,419 131.5,419.79 132.6,421.25 133.57,424.63 134.55,428.31 135.53,435.23 136.5,438.55 137.62,441.29 138.75,447.55 139.88,444.36 141,440.8 142.13,436.39 143.27,427.51 144.4,422.8 145.52,417.97 146.63,415.69 147.75,411.55 148.88,408.2 150,404.8 151.2,405 152.25,409.3 153.38,407.56 154.5,404.8 156,406 156.95,408.78 157.9,409.3 159.02,410.36 160.13,413.08 161.25,416 162.37,419.05 163.48,421.91 164.6,427.3 165.73,430.94 166.87,432.79 168,434 169.12,438.18 170.25,440.8 170.9,430.25 172,414.5 174.25,369.5 176.5,367.25 177.6,406.6 178.75,357.1 181,376.25 183.25,380.75 185.5,393 188.4,419 191.75,446 195,451.6 199.6,453.9 203,452.3 209.75,453.2 214.25,447.1 217.6,447.1 219.9,439.25 222.1,441.5 224.4,438.1 226.6,444.2 228.9,443.75 234.5,450.5 241.25,450.5 252.5,447.1 258.1,444.2 258.8,439.25 259.5,444.2 263.75,441.5 268.25,437 272.75,431.4 277.25,425.75 280.6,414.5 281.75,410 284,417.9 285.1,411.1 287.4,419 289.6,412.25 290.75,417.9 291.9,366 293.5,403.25 295.25,407.75 297.5,402.1 302,394.25 306.5,374 309.9,369.5 313.25,365 315.5,359.4 318.4,363.9 320,306.5 321.3,280 322.9,351.5 324.5,336.9 325.8,366.1 329.6,367.25 330.75,367.25 332.55,341.4 334.1,371.75 335.25,374.1 336.4,378.5 337.5,382.85 338.6,385.25 339.73,388.99 340.87,390.56 342,394.25 343.13,397.24 344.27,400.11 345.4,403.25 346.52,406.29 347.63,409.29 348.75,411.1 349.88,413.91 351,419 351.9,417.68 352.8,419 353.9,374 354.9,418.3 358.25,418.3 361.6,421.7 365,423.9 366.5,420 368.4,412.7 369.5,424 370.6,427.3 372.5,425 374,411.55 375.1,427.3 378.5,426.2" fill="none" stroke="#d40f1a" stroke-width="1.8" stroke-linejoin="round" /><polyline points="378.5,426.2 379,423.7 380.3,427.26 381.6,423.05 382.9,427.28 384.2,423.63 385.5,426.23 386.8,421.48 388.1,424.15 389.4,421.62 390.7,424.79 392,421.83 393.3,425.02 394.6,421.63 395.9,424.89 397.2,421.16 398.5,422.35 399.8,417.24 401.1,419.3 402.4,416.44 403.7,418.48 405,415.01 406.3,416.24 407.6,413.61 408.9,414.73 410.2,410.61 411.5,413.9 412.8,408.87 414.1,410.99 415.4,406.88 416.7,408.72 418,405.13 419.3,407.61 420.6,404.2 421.9,407.38 423.2,403.23 424.5,406.24 425.8,402.04 427.1,404.8 428.4,402.11 429.7,408.87 431,408.33 432.3,414.36 433.6,413.36 434.9,419.04 436.2,416.41 437.5,418.51 438.8,414.31 440.1,415.75 441.4,410.7 442.7,411.06 444,406.05 445.3,408.08 446.6,404 447.9,407.36 449.2,404.47 450.5,409.8 451.8,407.24 453.1,411.27 454.4,410.3 455.7,412.87 457,412.49 458.3,416.51 459.6,414.66 460.9,418.41 462.2,415.25 463.5,419.04 464.8,418.43 466.1,425.28 467.4,423.11 468.7,420.76 470,416.25 471.3,416.72 472.6,412.82 473.9,422.18 475.2,420.68 476.5,425.34 477.8,423.87 479.1,427.51 480.4,424.58 481.7,427.35 483,424.46 484.3,425.67 485.6,421.5 486.9,427.95 488.2,429.11 489.5,435.01 490.8,432.74 492.1,438.09 493.4,437.26 494.7,440.73 496,439.82 497.3,444.82 498.6,442.72 499.9,446.67 501.2,443.71 502.5,446.83 503,444.3 504.2,405.8 506,444.3 508.8,449 515.8,449 520.5,447.8 524.7,432.2 527,447.3 534,449.6 539.8,439.2 541.5,450.8 546.8,446.2 549.2,450.8 552.7,447.3 557.3,428.7 558.5,433 559.7,431.3 562,449.6 564.3,454.3 578.3,455 579.5,453.2 584.2,454.3 587.7,442.7 588.5,455.5" fill="none" stroke="#d40f1a" stroke-width="1.35" stroke-linejoin="round" /></g></g>
<rect x="55.5" y="5.2" width="533" height="226.1" fill="none" stroke="#000" stroke-width="1.3"/>
<path d="M82.15 231.3v-5.3M82.15 5.2v5.3M108.8 231.3v-5.3M108.8 5.2v5.3M135.45 231.3v-5.3M135.45 5.2v5.3M162.1 231.3v-5.3M162.1 5.2v5.3M188.75 231.3v-10.7M188.75 5.2v10.7M215.4 231.3v-5.3M215.4 5.2v5.3M242.05 231.3v-5.3M242.05 5.2v5.3M268.7 231.3v-5.3M268.7 5.2v5.3M295.35 231.3v-5.3M295.35 5.2v5.3M322 231.3v-10.7M322 5.2v10.7M348.65 231.3v-5.3M348.65 5.2v5.3M375.3 231.3v-5.3M375.3 5.2v5.3M401.95 231.3v-5.3M401.95 5.2v5.3M428.6 231.3v-5.3M428.6 5.2v5.3M455.25 231.3v-10.7M455.25 5.2v10.7M481.9 231.3v-5.3M481.9 5.2v5.3M508.55 231.3v-5.3M508.55 5.2v5.3M535.2 231.3v-5.3M535.2 5.2v5.3M561.85 231.3v-5.3M561.85 5.2v5.3M55.5 220h5.3M588.5 220h-5.3M55.5 208.69h5.3M588.5 208.69h-5.3M55.5 197.38h5.3M588.5 197.38h-5.3M55.5 186.08h5.3M588.5 186.08h-5.3M55.5 174.78h10.7M588.5 174.78h-10.7M55.5 163.47h5.3M588.5 163.47h-5.3M55.5 152.16h5.3M588.5 152.16h-5.3M55.5 140.86h5.3M588.5 140.86h-5.3M55.5 129.56h5.3M588.5 129.56h-5.3M55.5 118.25h10.7M588.5 118.25h-10.7M55.5 106.94h5.3M588.5 106.94h-5.3M55.5 95.64h5.3M588.5 95.64h-5.3M55.5 84.33h5.3M588.5 84.33h-5.3M55.5 73.03h5.3M588.5 73.03h-5.3M55.5 61.72h10.7M588.5 61.72h-10.7M55.5 50.42h5.3M588.5 50.42h-5.3M55.5 39.11h5.3M588.5 39.11h-5.3M55.5 27.81h5.3M588.5 27.81h-5.3M55.5 16.5h5.3M588.5 16.5h-5.3" stroke="#000" stroke-width="1.3" fill="none"/>
<text x="55.5" y="252.1" text-anchor="middle" font-family='"Liberation Serif", serif' font-size="18" textLength="9.4" lengthAdjust="spacingAndGlyphs" stroke="#000" stroke-width="0.3">5</text>
<text x="188.75" y="252.1" text-anchor="middle" font-family='"Liberation Serif", serif' font-size="18" textLength="18.8" lengthAdjust="spacingAndGlyphs" stroke="#000" stroke-width="0.3">10</text>
<text x="322" y="252.1" text-anchor="middle" font-family='"Liberation Serif", serif' font-size="18" textLength="18.8" lengthAdjust="spacingAndGlyphs" stroke="#000" stroke-width="0.3">15</text>
<text x="455.25" y="252.1" text-anchor="middle" font-family='"Liberation Serif", serif' font-size="18" textLength="18.8" lengthAdjust="spacingAndGlyphs" stroke="#000" stroke-width="0.3">20</text>
<text x="588.5" y="252.1" text-anchor="middle" font-family='"Liberation Serif", serif' font-size="18" textLength="18.8" lengthAdjust="spacingAndGlyphs" stroke="#000" stroke-width="0.3">25</text>
<text transform="translate(46.4 231.3) rotate(-90)" text-anchor="middle" font-family='"Liberation Serif", serif' font-size="17.4" textLength="9.2" lengthAdjust="spacingAndGlyphs" stroke="#000" stroke-width="0.3">0</text>
<text transform="translate(46.4 174.78) rotate(-90)" text-anchor="middle" font-family='"Liberation Serif", serif' font-size="17.4" textLength="9.2" lengthAdjust="spacingAndGlyphs" stroke="#000" stroke-width="0.3">1</text>
<text transform="translate(46.4 118.25) rotate(-90)" text-anchor="middle" font-family='"Liberation Serif", serif' font-size="17.4" textLength="9.2" lengthAdjust="spacingAndGlyphs" stroke="#000" stroke-width="0.3">2</text>
<text transform="translate(46.4 61.72) rotate(-90)" text-anchor="middle" font-family='"Liberation Serif", serif' font-size="17.4" textLength="9.2" lengthAdjust="spacingAndGlyphs" stroke="#000" stroke-width="0.3">3</text>
<text transform="translate(46.4 5.2) rotate(-90)" text-anchor="middle" font-family='"Liberation Serif", serif' font-size="17.4" textLength="9.2" lengthAdjust="spacingAndGlyphs" stroke="#000" stroke-width="0.3">4</text>
<rect x="55.5" y="284.7" width="533" height="225.8" fill="none" stroke="#000" stroke-width="1.3"/>
<path d="M82.15 510.5v-5.3M82.15 284.7v5.3M108.8 510.5v-5.3M108.8 284.7v5.3M135.45 510.5v-5.3M135.45 284.7v5.3M162.1 510.5v-5.3M162.1 284.7v5.3M188.75 510.5v-10.7M188.75 284.7v10.7M215.4 510.5v-5.3M215.4 284.7v5.3M242.05 510.5v-5.3M242.05 284.7v5.3M268.7 510.5v-5.3M268.7 284.7v5.3M295.35 510.5v-5.3M295.35 284.7v5.3M322 510.5v-10.7M322 284.7v10.7M348.65 510.5v-5.3M348.65 284.7v5.3M375.3 510.5v-5.3M375.3 284.7v5.3M401.95 510.5v-5.3M401.95 284.7v5.3M428.6 510.5v-5.3M428.6 284.7v5.3M455.25 510.5v-10.7M455.25 284.7v10.7M481.9 510.5v-5.3M481.9 284.7v5.3M508.55 510.5v-5.3M508.55 284.7v5.3M535.2 510.5v-5.3M535.2 284.7v5.3M561.85 510.5v-5.3M561.85 284.7v5.3M55.5 501.47h5.3M588.5 501.47h-5.3M55.5 492.44h5.3M588.5 492.44h-5.3M55.5 483.4h5.3M588.5 483.4h-5.3M55.5 474.37h5.3M588.5 474.37h-5.3M55.5 465.34h10.7M588.5 465.34h-10.7M55.5 456.31h5.3M588.5 456.31h-5.3M55.5 447.28h5.3M588.5 447.28h-5.3M55.5 438.24h5.3M588.5 438.24h-5.3M55.5 429.21h5.3M588.5 429.21h-5.3M55.5 420.18h10.7M588.5 420.18h-10.7M55.5 411.15h5.3M588.5 411.15h-5.3M55.5 402.12h5.3M588.5 402.12h-5.3M55.5 393.08h5.3M588.5 393.08h-5.3M55.5 384.05h5.3M588.5 384.05h-5.3M55.5 375.02h10.7M588.5 375.02h-10.7M55.5 365.99h5.3M588.5 365.99h-5.3M55.5 356.96h5.3M588.5 356.96h-5.3M55.5 347.92h5.3M588.5 347.92h-5.3M55.5 338.89h5.3M588.5 338.89h-5.3M55.5 329.86h10.7M588.5 329.86h-10.7M55.5 320.83h5.3M588.5 320.83h-5.3M55.5 311.8h5.3M588.5 311.8h-5.3M55.5 302.76h5.3M588.5 302.76h-5.3M55.5 293.73h5.3M588.5 293.73h-5.3" stroke="#000" stroke-width="1.3" fill="none"/>
<text x="55.5" y="531.3" text-anchor="middle" font-family='"Liberation Serif", serif' font-size="18" textLength="9.4" lengthAdjust="spacingAndGlyphs" stroke="#000" stroke-width="0.3">5</text>
<text x="188.75" y="531.3" text-anchor="middle" font-family='"Liberation Serif", serif' font-size="18" textLength="18.8" lengthAdjust="spacingAndGlyphs" stroke="#000" stroke-width="0.3">10</text>
<text x="322" y="531.3" text-anchor="middle" font-family='"Liberation Serif", serif' font-size="18" textLength="18.8" lengthAdjust="spacingAndGlyphs" stroke="#000" stroke-width="0.3">15</text>
<text x="455.25" y="531.3" text-anchor="middle" font-family='"Liberation Serif", serif' font-size="18" textLength="18.8" lengthAdjust="spacingAndGlyphs" stroke="#000" stroke-width="0.3">20</text>
<text x="588.5" y="531.3" text-anchor="middle" font-family='"Liberation Serif", serif' font-size="18" textLength="18.8" lengthAdjust="spacingAndGlyphs" stroke="#000" stroke-width="0.3">25</text>
<text transform="translate(46.4 510.5) rotate(-90)" text-anchor="middle" font-family='"Liberation Serif", serif' font-size="17.4" textLength="9.2" lengthAdjust="spacingAndGlyphs" stroke="#000" stroke-width="0.3">0</text>
<text transform="translate(46.4 465.34) rotate(-90)" text-anchor="middle" font-family='"Liberation Serif", serif' font-size="17.4" textLength="18.4" lengthAdjust="spacingAndGlyphs" stroke="#000" stroke-width="0.3">10</text>
<text transform="translate(46.4 420.18) rotate(-90)" text-anchor="middle" font-family='"Liberation Serif", serif' font-size="17.4" textLength="18.4" lengthAdjust="spacingAndGlyphs" stroke="#000" stroke-width="0.3">20</text>
<text transform="translate(46.4 375.02) rotate(-90)" text-anchor="middle" font-family='"Liberation Serif", serif' font-size="17.4" textLength="18.4" lengthAdjust="spacingAndGlyphs" stroke="#000" stroke-width="0.3">30</text>
<text transform="translate(46.4 329.86) rotate(-90)" text-anchor="middle" font-family='"Liberation Serif", serif' font-size="17.4" textLength="18.4" lengthAdjust="spacingAndGlyphs" stroke="#000" stroke-width="0.3">40</text>
<text transform="translate(46.4 284.7) rotate(-90)" text-anchor="middle" font-family='"Liberation Serif", serif' font-size="17.4" textLength="18.4" lengthAdjust="spacingAndGlyphs" stroke="#000" stroke-width="0.3">50</text>
<rect x="54" y="586.5" width="532.7" height="226.2" fill="none" stroke="#000" stroke-width="1.3"/>
<path d="M80.64 812.7v-5.3M80.64 586.5v5.3M107.27 812.7v-5.3M107.27 586.5v5.3M133.91 812.7v-5.3M133.91 586.5v5.3M160.54 812.7v-5.3M160.54 586.5v5.3M187.18 812.7v-10.7M187.18 586.5v10.7M213.81 812.7v-5.3M213.81 586.5v5.3M240.45 812.7v-5.3M240.45 586.5v5.3M267.08 812.7v-5.3M267.08 586.5v5.3M293.72 812.7v-5.3M293.72 586.5v5.3M320.35 812.7v-10.7M320.35 586.5v10.7M346.99 812.7v-5.3M346.99 586.5v5.3M373.62 812.7v-5.3M373.62 586.5v5.3M400.25 812.7v-5.3M400.25 586.5v5.3M426.89 812.7v-5.3M426.89 586.5v5.3M453.53 812.7v-10.7M453.53 586.5v10.7M480.16 812.7v-5.3M480.16 586.5v5.3M506.8 812.7v-5.3M506.8 586.5v5.3M533.43 812.7v-5.3M533.43 586.5v5.3M560.07 812.7v-5.3M560.07 586.5v5.3M54 801.39h5.3M586.7 801.39h-5.3M54 790.08h5.3M586.7 790.08h-5.3M54 778.77h5.3M586.7 778.77h-5.3M54 767.46h5.3M586.7 767.46h-5.3M54 756.15h10.7M586.7 756.15h-10.7M54 744.84h5.3M586.7 744.84h-5.3M54 733.53h5.3M586.7 733.53h-5.3M54 722.22h5.3M586.7 722.22h-5.3M54 710.91h5.3M586.7 710.91h-5.3M54 699.6h10.7M586.7 699.6h-10.7M54 688.29h5.3M586.7 688.29h-5.3M54 676.98h5.3M586.7 676.98h-5.3M54 665.67h5.3M586.7 665.67h-5.3M54 654.36h5.3M586.7 654.36h-5.3M54 643.05h10.7M586.7 643.05h-10.7M54 631.74h5.3M586.7 631.74h-5.3M54 620.43h5.3M586.7 620.43h-5.3M54 609.12h5.3M586.7 609.12h-5.3M54 597.81h5.3M586.7 597.81h-5.3" stroke="#000" stroke-width="1.3" fill="none"/>
<text x="54" y="833.5" text-anchor="middle" font-family='"Liberation Serif", serif' font-size="18" textLength="9.4" lengthAdjust="spacingAndGlyphs" stroke="#000" stroke-width="0.3">5</text>
<text x="187.18" y="833.5" text-anchor="middle" font-family='"Liberation Serif", serif' font-size="18" textLength="18.8" lengthAdjust="spacingAndGlyphs" stroke="#000" stroke-width="0.3">10</text>
<text x="320.35" y="833.5" text-anchor="middle" font-family='"Liberation Serif", serif' font-size="18" textLength="18.8" lengthAdjust="spacingAndGlyphs" stroke="#000" stroke-width="0.3">15</text>
<text x="453.53" y="833.5" text-anchor="middle" font-family='"Liberation Serif", serif' font-size="18" textLength="18.8" lengthAdjust="spacingAndGlyphs" stroke="#000" stroke-width="0.3">20</text>
<text x="586.7" y="833.5" text-anchor="middle" font-family='"Liberation Serif", serif' font-size="18" textLength="18.8" lengthAdjust="spacingAndGlyphs" stroke="#000" stroke-width="0.3">25</text>
<text transform="translate(44.9 812.7) rotate(-90)" text-anchor="middle" font-family='"Liberation Serif", serif' font-size="17.4" textLength="9.2" lengthAdjust="spacingAndGlyphs" stroke="#000" stroke-width="0.3">0</text>
<text transform="translate(44.9 756.15) rotate(-90)" text-anchor="middle" font-family='"Liberation Serif", serif' font-size="17.4" textLength="9.2" lengthAdjust="spacingAndGlyphs" stroke="#000" stroke-width="0.3">1</text>
<text transform="translate(44.9 699.6) rotate(-90)" text-anchor="middle" font-family='"Liberation Serif", serif' font-size="17.4" textLength="9.2" lengthAdjust="spacingAndGlyphs" stroke="#000" stroke-width="0.3">2</text>
<text transform="translate(44.9 643.05) rotate(-90)" text-anchor="middle" font-family='"Liberation Serif", serif' font-size="17.4" textLength="9.2" lengthAdjust="spacingAndGlyphs" stroke="#000" stroke-width="0.3">3</text>
<text transform="translate(44.9 586.5) rotate(-90)" text-anchor="middle" font-family='"Liberation Serif", serif' font-size="17.4" textLength="9.2" lengthAdjust="spacingAndGlyphs" stroke="#000" stroke-width="0.3">4</text>
<rect x="54" y="867.2" width="532.7" height="226" fill="none" stroke="#000" stroke-width="1.3"/>
<path d="M80.64 1093.2v-5.3M80.64 867.2v5.3M107.27 1093.2v-5.3M107.27 867.2v5.3M133.91 1093.2v-5.3M133.91 867.2v5.3M160.54 1093.2v-5.3M160.54 867.2v5.3M187.18 1093.2v-10.7M187.18 867.2v10.7M213.81 1093.2v-5.3M213.81 867.2v5.3M240.45 1093.2v-5.3M240.45 867.2v5.3M267.08 1093.2v-5.3M267.08 867.2v5.3M293.72 1093.2v-5.3M293.72 867.2v5.3M320.35 1093.2v-10.7M320.35 867.2v10.7M346.99 1093.2v-5.3M346.99 867.2v5.3M373.62 1093.2v-5.3M373.62 867.2v5.3M400.25 1093.2v-5.3M400.25 867.2v5.3M426.89 1093.2v-5.3M426.89 867.2v5.3M453.53 1093.2v-10.7M453.53 867.2v10.7M480.16 1093.2v-5.3M480.16 867.2v5.3M506.8 1093.2v-5.3M506.8 867.2v5.3M533.43 1093.2v-5.3M533.43 867.2v5.3M560.07 1093.2v-5.3M560.07 867.2v5.3M54 1084.16h5.3M586.7 1084.16h-5.3M54 1075.12h5.3M586.7 1075.12h-5.3M54 1066.08h5.3M586.7 1066.08h-5.3M54 1057.04h5.3M586.7 1057.04h-5.3M54 1048h10.7M586.7 1048h-10.7M54 1038.96h5.3M586.7 1038.96h-5.3M54 1029.92h5.3M586.7 1029.92h-5.3M54 1020.88h5.3M586.7 1020.88h-5.3M54 1011.84h5.3M586.7 1011.84h-5.3M54 1002.8h10.7M586.7 1002.8h-10.7M54 993.76h5.3M586.7 993.76h-5.3M54 984.72h5.3M586.7 984.72h-5.3M54 975.68h5.3M586.7 975.68h-5.3M54 966.64h5.3M586.7 966.64h-5.3M54 957.6h10.7M586.7 957.6h-10.7M54 948.56h5.3M586.7 948.56h-5.3M54 939.52h5.3M586.7 939.52h-5.3M54 930.48h5.3M586.7 930.48h-5.3M54 921.44h5.3M586.7 921.44h-5.3M54 912.4h10.7M586.7 912.4h-10.7M54 903.36h5.3M586.7 903.36h-5.3M54 894.32h5.3M586.7 894.32h-5.3M54 885.28h5.3M586.7 885.28h-5.3M54 876.24h5.3M586.7 876.24h-5.3" stroke="#000" stroke-width="1.3" fill="none"/>
<text x="54" y="1114" text-anchor="middle" font-family='"Liberation Serif", serif' font-size="18" textLength="9.4" lengthAdjust="spacingAndGlyphs" stroke="#000" stroke-width="0.3">5</text>
<text x="187.18" y="1114" text-anchor="middle" font-family='"Liberation Serif", serif' font-size="18" textLength="18.8" lengthAdjust="spacingAndGlyphs" stroke="#000" stroke-width="0.3">10</text>
<text x="320.35" y="1114" text-anchor="middle" font-family='"Liberation Serif", serif' font-size="18" textLength="18.8" lengthAdjust="spacingAndGlyphs" stroke="#000" stroke-width="0.3">15</text>
<text x="453.53" y="1114" text-anchor="middle" font-family='"Liberation Serif", serif' font-size="18" textLength="18.8" lengthAdjust="spacingAndGlyphs" stroke="#000" stroke-width="0.3">20</text>
<text x="586.7" y="1114" text-anchor="middle" font-family='"Liberation Serif", serif' font-size="18" textLength="18.8" lengthAdjust="spacingAndGlyphs" stroke="#000" stroke-width="0.3">25</text>
<text transform="translate(44.9 1093.2) rotate(-90)" text-anchor="middle" font-family='"Liberation Serif", serif' font-size="17.4" textLength="9.2" lengthAdjust="spacingAndGlyphs" stroke="#000" stroke-width="0.3">0</text>
<text transform="translate(44.9 1048) rotate(-90)" text-anchor="middle" font-family='"Liberation Serif", serif' font-size="17.4" textLength="18.4" lengthAdjust="spacingAndGlyphs" stroke="#000" stroke-width="0.3">10</text>
<text transform="translate(44.9 1002.8) rotate(-90)" text-anchor="middle" font-family='"Liberation Serif", serif' font-size="17.4" textLength="18.4" lengthAdjust="spacingAndGlyphs" stroke="#000" stroke-width="0.3">20</text>
<text transform="translate(44.9 957.6) rotate(-90)" text-anchor="middle" font-family='"Liberation Serif", serif' font-size="17.4" textLength="18.4" lengthAdjust="spacingAndGlyphs" stroke="#000" stroke-width="0.3">30</text>
<text transform="translate(44.9 912.4) rotate(-90)" text-anchor="middle" font-family='"Liberation Serif", serif' font-size="17.4" textLength="18.4" lengthAdjust="spacingAndGlyphs" stroke="#000" stroke-width="0.3">40</text>
<text transform="translate(44.9 867.2) rotate(-90)" text-anchor="middle" font-family='"Liberation Serif", serif' font-size="17.4" textLength="18.4" lengthAdjust="spacingAndGlyphs" stroke="#000" stroke-width="0.3">50</text>
<text transform="translate(18.6 202.2) rotate(-90)" y="0" font-family='"Liberation Serif", serif' font-size="25" stroke="#000" stroke-width="0.15"><tspan x="-0.55">F</tspan><tspan x="15.73">l</tspan><tspan x="25.75">u</tspan><tspan x="38.55">x</tspan></text>
<text transform="translate(25 142) rotate(-90)" y="0" font-family='"Liberation Serif", serif' font-size="15" stroke="#000" stroke-width="0.25"><tspan x="0.25">p</tspan><tspan x="6.92">W</tspan><tspan x="22.42">/</tspan><tspan x="29.9">(</tspan><tspan x="36.08">H</tspan><tspan x="46.37">z</tspan><tspan x="61.03">S</tspan><tspan x="71.02">t</tspan><tspan x="77.17">e</tspan><tspan x="86.5">r</tspan><tspan x="100.67">m</tspan><tspan x="114.35">²</tspan><tspan x="119.7">)</tspan></text>
<text transform="translate(456 203.5) scale(1.12 1)" font-family='"Liberation Serif", serif' font-size="17.2" textLength="70.27" lengthAdjust="spacing" stroke="#000" stroke-width="0.3">Emission</text>
<text transform="translate(18.5 494) rotate(-90)" y="0" font-family='"Liberation Serif", serif' font-size="25" stroke="#000" stroke-width="0.15"><tspan x="-1.4">E</tspan><tspan x="14.54">f</tspan><tspan x="27.01">f</tspan><tspan x="38.1">e</tspan><tspan x="50.57">c</tspan><tspan x="65.11">t</tspan><tspan x="77.58">i</tspan><tspan x="87.28">v</tspan><tspan x="100.45">e</tspan><tspan x="121.91">H</tspan><tspan x="137.86">e</tspan><tspan x="152.4">i</tspan><tspan x="162.1">g</tspan><tspan x="174.57">h</tspan><tspan x="189.81">t</tspan></text>
<text transform="translate(396 324.1) scale(1.12 1)" font-family='"Liberation Serif", serif' font-size="17" textLength="105.89" lengthAdjust="spacing" stroke="#000" stroke-width="0.3">Transmission</text>
<text transform="translate(226.2 555) scale(0.89 1)" font-family='"Liberation Mono", monospace' font-size="18.66" stroke="#000" stroke-width="0.15">Wavelength (<tspan font-style="italic">μ</tspan>m)</text>
<text transform="translate(17.1 783.6) rotate(-90)" y="0" font-family='"Liberation Serif", serif' font-size="25" stroke="#000" stroke-width="0.15"><tspan x="-0.55">F</tspan><tspan x="15.73">l</tspan><tspan x="25.75">u</tspan><tspan x="38.55">x</tspan></text>
<text transform="translate(23.5 723.4) rotate(-90)" y="0" font-family='"Liberation Serif", serif' font-size="15" stroke="#000" stroke-width="0.25"><tspan x="0.25">p</tspan><tspan x="6.92">W</tspan><tspan x="22.42">/</tspan><tspan x="29.9">(</tspan><tspan x="36.08">H</tspan><tspan x="46.37">z</tspan><tspan x="61.03">S</tspan><tspan x="71.02">t</tspan><tspan x="77.17">e</tspan><tspan x="86.5">r</tspan><tspan x="100.67">m</tspan><tspan x="114.35">²</tspan><tspan x="119.7">)</tspan></text>
<text transform="translate(454.5 784.9) scale(1.12 1)" font-family='"Liberation Serif", serif' font-size="17.2" textLength="70.27" lengthAdjust="spacing" stroke="#000" stroke-width="0.3">Emission</text>
<text transform="translate(17 1076.7) rotate(-90)" y="0" font-family='"Liberation Serif", serif' font-size="25" stroke="#000" stroke-width="0.15"><tspan x="-1.4">E</tspan><tspan x="14.54">f</tspan><tspan x="27.01">f</tspan><tspan x="38.1">e</tspan><tspan x="50.57">c</tspan><tspan x="65.11">t</tspan><tspan x="77.58">i</tspan><tspan x="87.28">v</tspan><tspan x="100.45">e</tspan><tspan x="121.91">H</tspan><tspan x="137.86">e</tspan><tspan x="152.4">i</tspan><tspan x="162.1">g</tspan><tspan x="174.57">h</tspan><tspan x="189.81">t</tspan></text>
<text transform="translate(394.5 906.8) scale(1.12 1)" font-family='"Liberation Serif", serif' font-size="17" textLength="105.89" lengthAdjust="spacing" stroke="#000" stroke-width="0.3">Transmission</text>
<text transform="translate(224.7 1137.7) scale(0.89 1)" font-family='"Liberation Mono", monospace' font-size="18.66" stroke="#000" stroke-width="0.15">Wavelength (<tspan font-style="italic">μ</tspan>m)</text>
</svg>
</body></html>
